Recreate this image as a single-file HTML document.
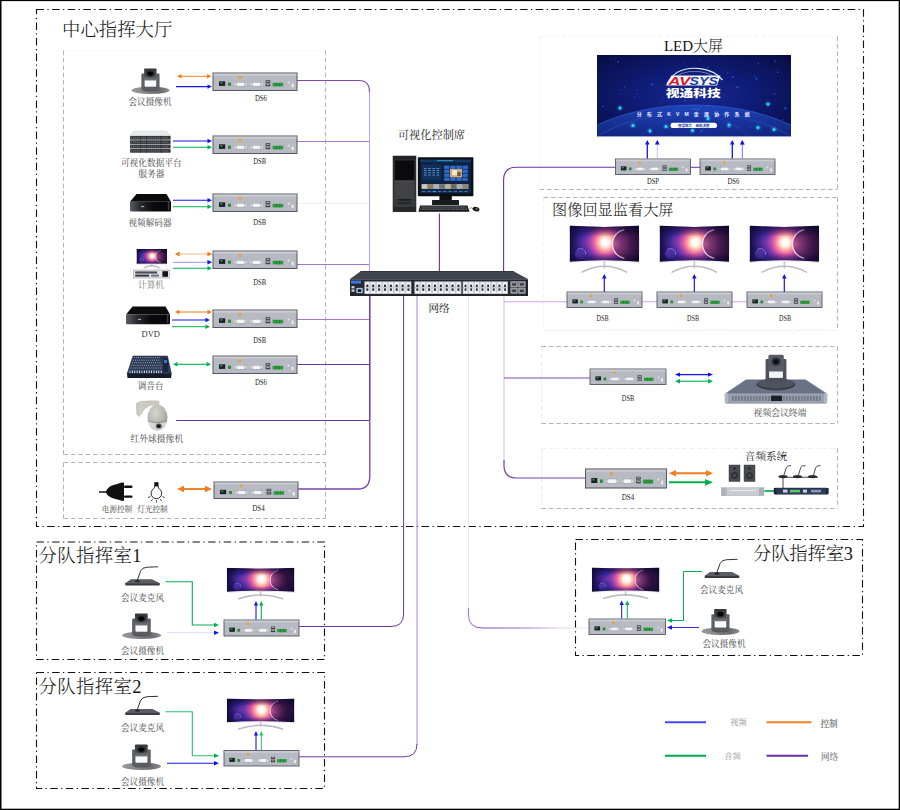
<!DOCTYPE html>
<html lang="zh-CN"><head><meta charset="utf-8"><title>分布式KVM坐席协作系统 拓扑图</title>
<style>
html,body{margin:0;padding:0;background:#fff;}
body{width:900px;height:810px;overflow:hidden;font-family:"Liberation Serif","Noto Serif CJK SC",serif;}
svg{display:block;}
</style></head><body>
<svg width="900" height="810" viewBox="0 0 900 810">
<defs>
<radialGradient id="gGlow" cx="0.5" cy="0.5" r="0.5">
 <stop offset="0" stop-color="#ffffff"/><stop offset="0.16" stop-color="#fff6f0"/>
 <stop offset="0.3" stop-color="#ffb4a4"/><stop offset="0.48" stop-color="#ee62a4" stop-opacity="0.92"/>
 <stop offset="0.72" stop-color="#a040b4" stop-opacity="0.55"/>
 <stop offset="1" stop-color="#5a2c9c" stop-opacity="0"/>
</radialGradient>
<radialGradient id="gStreak" cx="0.5" cy="0.5" r="0.5">
 <stop offset="0" stop-color="#f070a8" stop-opacity="0.9"/><stop offset="0.5" stop-color="#b048b0" stop-opacity="0.5"/>
 <stop offset="1" stop-color="#6030a0" stop-opacity="0"/>
</radialGradient>
<linearGradient id="gWpBase" x1="0" y1="0" x2="1" y2="0">
 <stop offset="0" stop-color="#140c40"/><stop offset="0.2" stop-color="#3828a0"/><stop offset="0.5" stop-color="#5a2c9c"/>
 <stop offset="0.8" stop-color="#3c1a60"/><stop offset="1" stop-color="#180a30"/>
</linearGradient>
<linearGradient id="gWpTop" x1="0" y1="0" x2="0" y2="1">
 <stop offset="0" stop-color="#0c0628" stop-opacity="0.75"/><stop offset="0.3" stop-color="#0c0628" stop-opacity="0"/>
 <stop offset="0.75" stop-color="#0c0628" stop-opacity="0"/><stop offset="1" stop-color="#0c0628" stop-opacity="0.6"/>
</linearGradient>
<radialGradient id="gPlanet" cx="0.05" cy="0.5" r="1.0">
 <stop offset="0" stop-color="#b45a90"/><stop offset="0.25" stop-color="#7a3470"/><stop offset="0.6" stop-color="#40184c"/><stop offset="1" stop-color="#1c0a2c"/>
</radialGradient>
<linearGradient id="gCamBase" x1="0" y1="0" x2="1" y2="0">
 <stop offset="0" stop-color="#9a9a9e"/><stop offset="0.3" stop-color="#8a8a8e"/><stop offset="0.75" stop-color="#6c6c70"/><stop offset="1" stop-color="#8e8e92"/>
</linearGradient>
<linearGradient id="gCamHead" x1="0" y1="0" x2="0" y2="1">
 <stop offset="0" stop-color="#36373b"/><stop offset="0.6" stop-color="#4a4b50"/><stop offset="1" stop-color="#7a7b80"/>
</linearGradient>
<linearGradient id="gR3" gradientUnits="userSpaceOnUse" x1="468" y1="0" x2="589" y2="0"><stop offset="0" stop-color="#9a6cc8"/><stop offset="0.12" stop-color="#7c48b0"/><stop offset="0.45" stop-color="#9a70c8"/><stop offset="0.8" stop-color="#e8d8f0"/><stop offset="1" stop-color="#f6ece8"/></linearGradient><linearGradient id="gGloss" x1="0" y1="0" x2="1" y2="0"><stop offset="0" stop-color="#5c5e64"/><stop offset="0.25" stop-color="#2a2b2f"/><stop offset="0.55" stop-color="#0c0c0e"/><stop offset="1" stop-color="#050506"/></linearGradient><clipPath id="mc1"><path d="M136.5,249 Q151.75,249.0 167.0,249 L167.0,264.2 Q151.75,264.2 136.5,264.2 Z"/></clipPath><radialGradient id="gDome" cx="0.4" cy="0.3" r="0.8"><stop offset="0" stop-color="#d6d6d0"/><stop offset="0.6" stop-color="#b4b4ae"/><stop offset="1" stop-color="#8e8e88"/></radialGradient>
<radialGradient id="gLed" cx="0.5" cy="0.5" r="0.72">
 <stop offset="0" stop-color="#172890"/><stop offset="0.4" stop-color="#0f1c78"/><stop offset="0.8" stop-color="#0a1254"/><stop offset="1" stop-color="#070c3c"/>
</radialGradient>
<linearGradient id="gGlobe" x1="0" y1="0" x2="0" y2="1">
 <stop offset="0" stop-color="#2858d8" stop-opacity="0.6"/><stop offset="0.18" stop-color="#1c3cb4" stop-opacity="0.5"/><stop offset="0.45" stop-color="#0c1a70" stop-opacity="0.3"/>
</linearGradient>
<clipPath id="ledclip"><rect x="597" y="55" width="194" height="81.5"/></clipPath>
<clipPath id="mc2"><path d="M569.6,225.6 Q604.35,228.2 639.1,225.6 L639.1,262.4 Q604.35,259.28 569.6,262.4 Z"/></clipPath><clipPath id="mc3"><path d="M659.6,225.6 Q694.35,228.2 729.1,225.6 L729.1,262.4 Q694.35,259.28 659.6,262.4 Z"/></clipPath><clipPath id="mc4"><path d="M749.6,225.6 Q784.35,228.2 819.1,225.6 L819.1,262.4 Q784.35,259.28 749.6,262.4 Z"/></clipPath><clipPath id="mc5"><path d="M226.8,567.8 Q260.6,569.5999999999999 294.4,567.8 L294.4,592.4 Q260.6,590.24 226.8,592.4 Z"/></clipPath><clipPath id="mc6"><path d="M226.8,698.6 Q260.6,700.4 294.4,698.6 L294.4,722.8000000000001 Q260.6,720.6400000000001 226.8,722.8000000000001 Z"/></clipPath><clipPath id="mc7"><path d="M591.8,567.6 Q625.5999999999999,569.4 659.4,567.6 L659.4,592.2 Q625.5999999999999,590.0400000000001 591.8,592.2 Z"/></clipPath></defs>
<rect x="0" y="0" width="900" height="810" fill="#ffffff"/>
<rect x="0" y="0" width="900" height="1.1" fill="#000"/><rect x="0" y="808.7" width="900" height="1.3" fill="#000"/>
<rect x="0" y="0" width="1.5" height="810" fill="#000"/><rect x="898.7" y="0" width="1.3" height="810" fill="#000"/>
<rect x="36.5" y="9.5" width="827" height="517" stroke="#111" stroke-width="1.1" fill="none" stroke-dasharray="7.5 3.4 1.3 3.4"/>
<rect x="36.5" y="542" width="288" height="117.5" stroke="#111" stroke-width="1.1" fill="none" stroke-dasharray="7.5 3.4 1.3 3.4"/>
<rect x="36.5" y="672.5" width="288" height="116" stroke="#111" stroke-width="1.1" fill="none" stroke-dasharray="7.5 3.4 1.3 3.4"/>
<rect x="575.5" y="539.5" width="287" height="116" stroke="#111" stroke-width="1.1" fill="none" stroke-dasharray="7.5 3.4 1.3 3.4"/>
<line x1="63.5" y1="50.5" x2="325.5" y2="50.5" stroke="#9a9a9a" stroke-width="0.75" stroke-dasharray="4.6 2.8" opacity="0.12"/>
<line x1="63.5" y1="50.5" x2="63.5" y2="454.5" stroke="#9a9a9a" stroke-width="0.75" stroke-dasharray="4.6 2.8" opacity="1"/>
<line x1="325.5" y1="50.5" x2="325.5" y2="454.5" stroke="#9a9a9a" stroke-width="0.75" stroke-dasharray="4.6 2.8" opacity="1"/>
<line x1="63.5" y1="454.5" x2="325.5" y2="454.5" stroke="#9a9a9a" stroke-width="0.75" stroke-dasharray="4.6 2.8" opacity="1"/>
<line x1="63.5" y1="462.5" x2="325.5" y2="462.5" stroke="#9a9a9a" stroke-width="0.75" stroke-dasharray="4.6 2.8" opacity="1"/>
<line x1="63.5" y1="462.5" x2="63.5" y2="518.5" stroke="#9a9a9a" stroke-width="0.75" stroke-dasharray="4.6 2.8" opacity="1"/>
<line x1="325.5" y1="462.5" x2="325.5" y2="518.5" stroke="#9a9a9a" stroke-width="0.75" stroke-dasharray="4.6 2.8" opacity="1"/>
<line x1="63.5" y1="518.5" x2="325.5" y2="518.5" stroke="#9a9a9a" stroke-width="0.75" stroke-dasharray="4.6 2.8" opacity="1"/>
<line x1="539.5" y1="36.5" x2="837.5" y2="36.5" stroke="#9a9a9a" stroke-width="0.75" stroke-dasharray="4.6 2.8" opacity="0.14"/>
<line x1="539.5" y1="36.5" x2="539.5" y2="189.5" stroke="#9a9a9a" stroke-width="0.75" stroke-dasharray="4.6 2.8" opacity="0.14"/>
<line x1="837.5" y1="36.5" x2="837.5" y2="189.5" stroke="#9a9a9a" stroke-width="0.75" stroke-dasharray="4.6 2.8" opacity="1"/>
<line x1="539.5" y1="189.5" x2="837.5" y2="189.5" stroke="#9a9a9a" stroke-width="0.75" stroke-dasharray="4.6 2.8" opacity="1"/>
<line x1="543.5" y1="197.5" x2="837.5" y2="197.5" stroke="#9a9a9a" stroke-width="0.75" stroke-dasharray="4.6 2.8" opacity="1"/>
<line x1="543.5" y1="197.5" x2="543.5" y2="330.5" stroke="#9a9a9a" stroke-width="0.75" stroke-dasharray="4.6 2.8" opacity="0.14"/>
<line x1="837.5" y1="197.5" x2="837.5" y2="330.5" stroke="#9a9a9a" stroke-width="0.75" stroke-dasharray="4.6 2.8" opacity="1"/>
<line x1="543.5" y1="330.5" x2="837.5" y2="330.5" stroke="#9a9a9a" stroke-width="0.75" stroke-dasharray="4.6 2.8" opacity="0.22"/>
<line x1="541.5" y1="346.5" x2="837.5" y2="346.5" stroke="#9a9a9a" stroke-width="0.75" stroke-dasharray="4.6 2.8" opacity="1"/>
<line x1="541.5" y1="346.5" x2="541.5" y2="423.5" stroke="#9a9a9a" stroke-width="0.75" stroke-dasharray="4.6 2.8" opacity="0.25"/>
<line x1="837.5" y1="346.5" x2="837.5" y2="423.5" stroke="#9a9a9a" stroke-width="0.75" stroke-dasharray="4.6 2.8" opacity="1"/>
<line x1="541.5" y1="423.5" x2="837.5" y2="423.5" stroke="#9a9a9a" stroke-width="0.75" stroke-dasharray="4.6 2.8" opacity="1"/>
<line x1="541.5" y1="448.5" x2="837.5" y2="448.5" stroke="#9a9a9a" stroke-width="0.75" stroke-dasharray="4.6 2.8" opacity="0.2"/>
<line x1="541.5" y1="448.5" x2="541.5" y2="508.5" stroke="#9a9a9a" stroke-width="0.75" stroke-dasharray="4.6 2.8" opacity="0.25"/>
<line x1="837.5" y1="448.5" x2="837.5" y2="508.5" stroke="#9a9a9a" stroke-width="0.75" stroke-dasharray="4.6 2.8" opacity="1"/>
<line x1="541.5" y1="508.5" x2="837.5" y2="508.5" stroke="#9a9a9a" stroke-width="0.75" stroke-dasharray="4.6 2.8" opacity="1"/>
<path d="M297,264.5 H369.5" fill="none" stroke="#a274d2" stroke-width="1.0"/>
<path d="M297,203.5 H369.5" fill="none" stroke="#f4efe2" stroke-width="1.0"/>
<path d="M297,141.5 H369.5" fill="none" stroke="#a27ad4" stroke-width="1.0"/>
<path d="M369.5,90 V272" fill="none" stroke="#c2a0e6" stroke-width="1.1"/>
<path d="M297,80.5 H359 Q369.5,80.5 369.5,92" fill="none" stroke="#8248b4" stroke-width="1.1"/>
<path d="M297,319.5 H369.5" fill="none" stroke="#a678d6" stroke-width="1.0"/>
<path d="M297,364.5 H369.5" fill="none" stroke="#6c34a0" stroke-width="1.1"/>
<path d="M176,420.5 H369.5" fill="none" stroke="#6c34a0" stroke-width="1.1"/>
<path d="M369.8,296 V420" fill="none" stroke="#6c38a6" stroke-width="1.5"/>
<path d="M298,489 H358 Q369.8,489 369.8,476 V420" fill="none" stroke="#7c40ac" stroke-width="1.3"/>
<path d="M439.4,213.5 V272" fill="none" stroke="#6c30a0" stroke-width="1.1"/>
<path d="M299,626.5 H391 Q403.6,626.5 403.6,614 V296" fill="none" stroke="#6c34a2" stroke-width="1.0"/>
<path d="M417,745 V296" fill="none" stroke="#a680d8" stroke-width="1.0"/>
<path d="M299,756.8 H404 Q417,756.8 417,744" fill="none" stroke="#7238a6" stroke-width="1.0"/>
<path d="M468.4,296 V612" fill="none" stroke="#ecdff7" stroke-width="1.0"/>
<path d="M468.4,608 V614 Q468.4,628 482,628 H589" fill="none" stroke="url(#gR3)" stroke-width="1.0"/>
<path d="M615,167.3 H516 Q503.6,167.3 503.6,180 V272" fill="none" stroke="#6c30a0" stroke-width="1.1"/>
<path d="M690,167.3 H700" fill="none" stroke="#6c30a0" stroke-width="1.0"/>
<path d="M504,296 V462" fill="none" stroke="#d2bcee" stroke-width="1.0"/>
<path d="M504,301.8 H567" fill="none" stroke="#c9a6ea" stroke-width="1.0"/>
<path d="M642,301.8 H657 M732,301.8 H747" fill="none" stroke="#c9a6ea" stroke-width="1.0"/>
<path d="M504,378 H590" fill="none" stroke="#8446b4" stroke-width="1.2"/>
<path d="M504,460 V466 Q504,478 517,478 H585" fill="none" stroke="#7440aa" stroke-width="1.2"/>
<g transform="translate(131.5,68) scale(0.9872,1.0000)">
<ellipse cx="19.3" cy="22.3" rx="19.3" ry="3.7" fill="url(#gCamBase)"/>
<ellipse cx="19.3" cy="21.6" rx="9" ry="2" fill="#56585e"/>
<rect x="10" y="5.6" width="3.4" height="16" rx="0.8" fill="#5e6066"/>
<rect x="25" y="5.6" width="3.4" height="16" rx="0.8" fill="#5e6066"/>
<rect x="11" y="18.4" width="16.6" height="3.4" fill="#5a5c62"/>
<rect x="13.6" y="12.4" width="11.2" height="6.2" fill="#fafafa"/>
<rect x="12.8" y="0.6" width="12.6" height="11.8" rx="1" fill="url(#gCamHead)"/>
<ellipse cx="19.1" cy="5.6" rx="4.2" ry="3.4" fill="#2e2f33"/>
<ellipse cx="19.1" cy="5.6" rx="2.9" ry="2.1" fill="#050506"/>
</g>
<line x1="180.60" y1="76.30" x2="207.90" y2="76.30" stroke="#f07d1e" stroke-width="1.0"/>
<polygon points="211.50,76.30 207.00,78.50 207.00,74.10" fill="#f07d1e"/>
<polygon points="177.00,76.30 181.50,78.50 181.50,74.10" fill="#f07d1e"/>
<line x1="176.00" y1="86.60" x2="208.40" y2="86.60" stroke="#1414f0" stroke-width="1.1"/>
<polygon points="212.00,86.60 207.50,88.80 207.50,84.40" fill="#1414f0"/>
<g transform="translate(213,73) scale(1.0000,1.0000)">
<rect x="0" y="0" width="84" height="17.5" fill="#b8bac3" stroke="#54565f" stroke-width="1"/>
<rect x="0.6" y="0.6" width="82.8" height="2" fill="#c9ccd3"/>
<rect x="6" y="8.3" width="6.2" height="4.6" fill="#1c2024"/>
<rect x="7.2" y="9" width="2.2" height="1.6" fill="#3c8c5a"/>
<rect x="15" y="9.6" width="3" height="3.2" fill="#2d8a3a"/>
<circle cx="27" cy="4.2" r="1.5" fill="#f09a28"/>
<rect x="23.2" y="9.2" width="8.6" height="4" fill="#f4f4f4" stroke="#8a8d94" stroke-width="0.4"/>
<rect x="21.8" y="10.4" width="1.2" height="1.6" fill="#e8e8e8"/><rect x="32" y="10.4" width="1.2" height="1.6" fill="#e8e8e8"/>
<rect x="39.2" y="9.2" width="8.6" height="4" fill="#f4f4f4" stroke="#8a8d94" stroke-width="0.4"/>
<rect x="37.8" y="10.4" width="1.2" height="1.6" fill="#e8e8e8"/><rect x="48" y="10.4" width="1.2" height="1.6" fill="#e8e8e8"/>
<rect x="52.6" y="7.2" width="4.6" height="2.6" fill="#30343a"/><rect x="52.6" y="10.6" width="4.6" height="2.6" fill="#30343a"/>
<rect x="53.3" y="7.9" width="3.2" height="0.8" fill="#d8d8d8"/><rect x="53.3" y="11.3" width="3.2" height="0.8" fill="#d8d8d8"/>
<rect x="59.6" y="9.8" width="10.6" height="3.6" fill="#2c9a3c"/>
<rect x="62.9" y="9.8" width="0.5" height="3.6" fill="#1c6a28"/><rect x="66.4" y="9.8" width="0.5" height="3.6" fill="#1c6a28"/>
<circle cx="75.6" cy="9.6" r="1.3" fill="#e6e6ea" stroke="#9a9da4" stroke-width="0.3"/>
<rect x="78.6" y="10.6" width="2" height="3.6" fill="#eeeeee"/>
</g>
<line x1="173.00" y1="141.00" x2="208.40" y2="141.00" stroke="#1414f0" stroke-width="1.1"/>
<polygon points="212.00,141.00 207.50,143.20 207.50,138.80" fill="#1414f0"/>
<line x1="173.00" y1="147.30" x2="208.40" y2="147.30" stroke="#00b050" stroke-width="1.1"/>
<polygon points="212.00,147.30 207.50,149.50 207.50,145.10" fill="#00b050"/>
<g transform="translate(213,136) scale(1.0000,1.0000)">
<rect x="0" y="0" width="84" height="17.5" fill="#b8bac3" stroke="#54565f" stroke-width="1"/>
<rect x="0.6" y="0.6" width="82.8" height="2" fill="#c9ccd3"/>
<rect x="6" y="8.3" width="6.2" height="4.6" fill="#1c2024"/>
<rect x="7.2" y="9" width="2.2" height="1.6" fill="#3c8c5a"/>
<rect x="15" y="9.6" width="3" height="3.2" fill="#2d8a3a"/>
<circle cx="27" cy="4.2" r="1.5" fill="#f09a28"/>
<rect x="23.2" y="9.2" width="8.6" height="4" fill="#f4f4f4" stroke="#8a8d94" stroke-width="0.4"/>
<rect x="21.8" y="10.4" width="1.2" height="1.6" fill="#e8e8e8"/><rect x="32" y="10.4" width="1.2" height="1.6" fill="#e8e8e8"/>
<rect x="39.2" y="9.2" width="8.6" height="4" fill="#f4f4f4" stroke="#8a8d94" stroke-width="0.4"/>
<rect x="37.8" y="10.4" width="1.2" height="1.6" fill="#e8e8e8"/><rect x="48" y="10.4" width="1.2" height="1.6" fill="#e8e8e8"/>
<rect x="52.6" y="7.2" width="4.6" height="2.6" fill="#30343a"/><rect x="52.6" y="10.6" width="4.6" height="2.6" fill="#30343a"/>
<rect x="53.3" y="7.9" width="3.2" height="0.8" fill="#d8d8d8"/><rect x="53.3" y="11.3" width="3.2" height="0.8" fill="#d8d8d8"/>
<rect x="59.6" y="9.8" width="10.6" height="3.6" fill="#2c9a3c"/>
<rect x="62.9" y="9.8" width="0.5" height="3.6" fill="#1c6a28"/><rect x="66.4" y="9.8" width="0.5" height="3.6" fill="#1c6a28"/>
<circle cx="75.6" cy="9.6" r="1.3" fill="#e6e6ea" stroke="#9a9da4" stroke-width="0.3"/>
<rect x="78.6" y="10.6" width="2" height="3.6" fill="#eeeeee"/>
</g>
<line x1="173.00" y1="200.30" x2="208.40" y2="200.30" stroke="#1414f0" stroke-width="1.1"/>
<polygon points="212.00,200.30 207.50,202.50 207.50,198.10" fill="#1414f0"/>
<line x1="173.00" y1="206.80" x2="208.40" y2="206.80" stroke="#00b050" stroke-width="1.1"/>
<polygon points="212.00,206.80 207.50,209.00 207.50,204.60" fill="#00b050"/>
<g transform="translate(213,194) scale(1.0000,1.0000)">
<rect x="0" y="0" width="84" height="17.5" fill="#b8bac3" stroke="#54565f" stroke-width="1"/>
<rect x="0.6" y="0.6" width="82.8" height="2" fill="#c9ccd3"/>
<rect x="6" y="8.3" width="6.2" height="4.6" fill="#1c2024"/>
<rect x="7.2" y="9" width="2.2" height="1.6" fill="#3c8c5a"/>
<rect x="15" y="9.6" width="3" height="3.2" fill="#2d8a3a"/>
<circle cx="27" cy="4.2" r="1.5" fill="#f09a28"/>
<rect x="23.2" y="9.2" width="8.6" height="4" fill="#f4f4f4" stroke="#8a8d94" stroke-width="0.4"/>
<rect x="21.8" y="10.4" width="1.2" height="1.6" fill="#e8e8e8"/><rect x="32" y="10.4" width="1.2" height="1.6" fill="#e8e8e8"/>
<rect x="39.2" y="9.2" width="8.6" height="4" fill="#f4f4f4" stroke="#8a8d94" stroke-width="0.4"/>
<rect x="37.8" y="10.4" width="1.2" height="1.6" fill="#e8e8e8"/><rect x="48" y="10.4" width="1.2" height="1.6" fill="#e8e8e8"/>
<rect x="52.6" y="7.2" width="4.6" height="2.6" fill="#30343a"/><rect x="52.6" y="10.6" width="4.6" height="2.6" fill="#30343a"/>
<rect x="53.3" y="7.9" width="3.2" height="0.8" fill="#d8d8d8"/><rect x="53.3" y="11.3" width="3.2" height="0.8" fill="#d8d8d8"/>
<rect x="59.6" y="9.8" width="10.6" height="3.6" fill="#2c9a3c"/>
<rect x="62.9" y="9.8" width="0.5" height="3.6" fill="#1c6a28"/><rect x="66.4" y="9.8" width="0.5" height="3.6" fill="#1c6a28"/>
<circle cx="75.6" cy="9.6" r="1.3" fill="#e6e6ea" stroke="#9a9da4" stroke-width="0.3"/>
<rect x="78.6" y="10.6" width="2" height="3.6" fill="#eeeeee"/>
</g>
<line x1="178.60" y1="254.00" x2="208.40" y2="254.00" stroke="#f7b070" stroke-width="0.9"/>
<polygon points="212.00,254.00 207.50,256.20 207.50,251.80" fill="#f7b070"/>
<polygon points="175.00,254.00 179.50,256.20 179.50,251.80" fill="#f7b070"/>
<polygon points="175,254 179.5,251.8 179.5,256.2" fill="#f07d1e"/><polygon points="212,254 207.5,251.8 207.5,256.2" fill="#f07d1e"/>
<line x1="173.00" y1="262.30" x2="208.40" y2="262.30" stroke="#8c8cf8" stroke-width="0.9"/>
<polygon points="212.00,262.30 207.50,264.50 207.50,260.10" fill="#8c8cf8"/>
<polygon points="212.00,262.30 207.50,264.50 207.50,260.10" fill="#1414f0"/>
<line x1="173.00" y1="268.30" x2="208.40" y2="268.30" stroke="#00b050" stroke-width="1.1"/>
<polygon points="212.00,268.30 207.50,270.50 207.50,266.10" fill="#00b050"/>
<g transform="translate(213,251) scale(1.0000,1.0000)">
<rect x="0" y="0" width="84" height="17.5" fill="#b8bac3" stroke="#54565f" stroke-width="1"/>
<rect x="0.6" y="0.6" width="82.8" height="2" fill="#c9ccd3"/>
<rect x="6" y="8.3" width="6.2" height="4.6" fill="#1c2024"/>
<rect x="7.2" y="9" width="2.2" height="1.6" fill="#3c8c5a"/>
<rect x="15" y="9.6" width="3" height="3.2" fill="#2d8a3a"/>
<circle cx="27" cy="4.2" r="1.5" fill="#f09a28"/>
<rect x="23.2" y="9.2" width="8.6" height="4" fill="#f4f4f4" stroke="#8a8d94" stroke-width="0.4"/>
<rect x="21.8" y="10.4" width="1.2" height="1.6" fill="#e8e8e8"/><rect x="32" y="10.4" width="1.2" height="1.6" fill="#e8e8e8"/>
<rect x="39.2" y="9.2" width="8.6" height="4" fill="#f4f4f4" stroke="#8a8d94" stroke-width="0.4"/>
<rect x="37.8" y="10.4" width="1.2" height="1.6" fill="#e8e8e8"/><rect x="48" y="10.4" width="1.2" height="1.6" fill="#e8e8e8"/>
<rect x="52.6" y="7.2" width="4.6" height="2.6" fill="#30343a"/><rect x="52.6" y="10.6" width="4.6" height="2.6" fill="#30343a"/>
<rect x="53.3" y="7.9" width="3.2" height="0.8" fill="#d8d8d8"/><rect x="53.3" y="11.3" width="3.2" height="0.8" fill="#d8d8d8"/>
<rect x="59.6" y="9.8" width="10.6" height="3.6" fill="#2c9a3c"/>
<rect x="62.9" y="9.8" width="0.5" height="3.6" fill="#1c6a28"/><rect x="66.4" y="9.8" width="0.5" height="3.6" fill="#1c6a28"/>
<circle cx="75.6" cy="9.6" r="1.3" fill="#e6e6ea" stroke="#9a9da4" stroke-width="0.3"/>
<rect x="78.6" y="10.6" width="2" height="3.6" fill="#eeeeee"/>
</g>
<line x1="178.60" y1="312.00" x2="208.40" y2="312.00" stroke="#f07d1e" stroke-width="1.0"/>
<polygon points="212.00,312.00 207.50,314.20 207.50,309.80" fill="#f07d1e"/>
<polygon points="175.00,312.00 179.50,314.20 179.50,309.80" fill="#f07d1e"/>
<line x1="172.00" y1="320.00" x2="206.40" y2="320.00" stroke="#1414f0" stroke-width="1.1"/>
<polygon points="210.00,320.00 205.50,322.20 205.50,317.80" fill="#1414f0"/>
<line x1="172.00" y1="326.70" x2="206.40" y2="326.70" stroke="#00b050" stroke-width="1.0"/>
<polygon points="210.00,326.70 205.50,328.90 205.50,324.50" fill="#00b050"/>
<g transform="translate(213,310) scale(1.0000,1.0000)">
<rect x="0" y="0" width="84" height="17.5" fill="#b8bac3" stroke="#54565f" stroke-width="1"/>
<rect x="0.6" y="0.6" width="82.8" height="2" fill="#c9ccd3"/>
<rect x="6" y="8.3" width="6.2" height="4.6" fill="#1c2024"/>
<rect x="7.2" y="9" width="2.2" height="1.6" fill="#3c8c5a"/>
<rect x="15" y="9.6" width="3" height="3.2" fill="#2d8a3a"/>
<circle cx="27" cy="4.2" r="1.5" fill="#f09a28"/>
<rect x="23.2" y="9.2" width="8.6" height="4" fill="#f4f4f4" stroke="#8a8d94" stroke-width="0.4"/>
<rect x="21.8" y="10.4" width="1.2" height="1.6" fill="#e8e8e8"/><rect x="32" y="10.4" width="1.2" height="1.6" fill="#e8e8e8"/>
<rect x="39.2" y="9.2" width="8.6" height="4" fill="#f4f4f4" stroke="#8a8d94" stroke-width="0.4"/>
<rect x="37.8" y="10.4" width="1.2" height="1.6" fill="#e8e8e8"/><rect x="48" y="10.4" width="1.2" height="1.6" fill="#e8e8e8"/>
<rect x="52.6" y="7.2" width="4.6" height="2.6" fill="#30343a"/><rect x="52.6" y="10.6" width="4.6" height="2.6" fill="#30343a"/>
<rect x="53.3" y="7.9" width="3.2" height="0.8" fill="#d8d8d8"/><rect x="53.3" y="11.3" width="3.2" height="0.8" fill="#d8d8d8"/>
<rect x="59.6" y="9.8" width="10.6" height="3.6" fill="#2c9a3c"/>
<rect x="62.9" y="9.8" width="0.5" height="3.6" fill="#1c6a28"/><rect x="66.4" y="9.8" width="0.5" height="3.6" fill="#1c6a28"/>
<circle cx="75.6" cy="9.6" r="1.3" fill="#e6e6ea" stroke="#9a9da4" stroke-width="0.3"/>
<rect x="78.6" y="10.6" width="2" height="3.6" fill="#eeeeee"/>
</g>
<line x1="176.60" y1="364.30" x2="207.40" y2="364.30" stroke="#00b050" stroke-width="1.1"/>
<polygon points="211.00,364.30 206.50,366.60 206.50,362.00" fill="#00b050"/>
<polygon points="173.00,364.30 177.50,366.60 177.50,362.00" fill="#00b050"/>
<g transform="translate(213,356) scale(1.0000,1.0000)">
<rect x="0" y="0" width="84" height="17.5" fill="#b8bac3" stroke="#54565f" stroke-width="1"/>
<rect x="0.6" y="0.6" width="82.8" height="2" fill="#c9ccd3"/>
<rect x="6" y="8.3" width="6.2" height="4.6" fill="#1c2024"/>
<rect x="7.2" y="9" width="2.2" height="1.6" fill="#3c8c5a"/>
<rect x="15" y="9.6" width="3" height="3.2" fill="#2d8a3a"/>
<circle cx="27" cy="4.2" r="1.5" fill="#f09a28"/>
<rect x="23.2" y="9.2" width="8.6" height="4" fill="#f4f4f4" stroke="#8a8d94" stroke-width="0.4"/>
<rect x="21.8" y="10.4" width="1.2" height="1.6" fill="#e8e8e8"/><rect x="32" y="10.4" width="1.2" height="1.6" fill="#e8e8e8"/>
<rect x="39.2" y="9.2" width="8.6" height="4" fill="#f4f4f4" stroke="#8a8d94" stroke-width="0.4"/>
<rect x="37.8" y="10.4" width="1.2" height="1.6" fill="#e8e8e8"/><rect x="48" y="10.4" width="1.2" height="1.6" fill="#e8e8e8"/>
<rect x="52.6" y="7.2" width="4.6" height="2.6" fill="#30343a"/><rect x="52.6" y="10.6" width="4.6" height="2.6" fill="#30343a"/>
<rect x="53.3" y="7.9" width="3.2" height="0.8" fill="#d8d8d8"/><rect x="53.3" y="11.3" width="3.2" height="0.8" fill="#d8d8d8"/>
<rect x="59.6" y="9.8" width="10.6" height="3.6" fill="#2c9a3c"/>
<rect x="62.9" y="9.8" width="0.5" height="3.6" fill="#1c6a28"/><rect x="66.4" y="9.8" width="0.5" height="3.6" fill="#1c6a28"/>
<circle cx="75.6" cy="9.6" r="1.3" fill="#e6e6ea" stroke="#9a9da4" stroke-width="0.3"/>
<rect x="78.6" y="10.6" width="2" height="3.6" fill="#eeeeee"/>
</g>
<line x1="182.60" y1="489.00" x2="206.40" y2="489.00" stroke="#f07d1e" stroke-width="1.9"/>
<polygon points="212.00,489.00 205.00,492.30 205.00,485.70" fill="#f07d1e"/>
<polygon points="177.00,489.00 184.00,492.30 184.00,485.70" fill="#f07d1e"/>
<g transform="translate(214,482) scale(1.0000,0.9429)">
<rect x="0" y="0" width="84" height="17.5" fill="#b8bac3" stroke="#54565f" stroke-width="1"/>
<rect x="0.6" y="0.6" width="82.8" height="2" fill="#c9ccd3"/>
<rect x="6" y="8.3" width="6.2" height="4.6" fill="#1c2024"/>
<rect x="7.2" y="9" width="2.2" height="1.6" fill="#3c8c5a"/>
<rect x="15" y="9.6" width="3" height="3.2" fill="#2d8a3a"/>
<circle cx="27" cy="4.2" r="1.5" fill="#f09a28"/>
<rect x="23.2" y="9.2" width="8.6" height="4" fill="#f4f4f4" stroke="#8a8d94" stroke-width="0.4"/>
<rect x="21.8" y="10.4" width="1.2" height="1.6" fill="#e8e8e8"/><rect x="32" y="10.4" width="1.2" height="1.6" fill="#e8e8e8"/>
<rect x="39.2" y="9.2" width="8.6" height="4" fill="#f4f4f4" stroke="#8a8d94" stroke-width="0.4"/>
<rect x="37.8" y="10.4" width="1.2" height="1.6" fill="#e8e8e8"/><rect x="48" y="10.4" width="1.2" height="1.6" fill="#e8e8e8"/>
<rect x="52.6" y="7.2" width="4.6" height="2.6" fill="#30343a"/><rect x="52.6" y="10.6" width="4.6" height="2.6" fill="#30343a"/>
<rect x="53.3" y="7.9" width="3.2" height="0.8" fill="#d8d8d8"/><rect x="53.3" y="11.3" width="3.2" height="0.8" fill="#d8d8d8"/>
<rect x="59.6" y="9.8" width="10.6" height="3.6" fill="#2c9a3c"/>
<rect x="62.9" y="9.8" width="0.5" height="3.6" fill="#1c6a28"/><rect x="66.4" y="9.8" width="0.5" height="3.6" fill="#1c6a28"/>
<circle cx="75.6" cy="9.6" r="1.3" fill="#e6e6ea" stroke="#9a9da4" stroke-width="0.3"/>
<rect x="78.6" y="10.6" width="2" height="3.6" fill="#eeeeee"/>
</g>
<polygon points="134.3,131 166.3,131 170.8,135.6 129.8,135.6" fill="#e9eaec" stroke="#c4c6ca" stroke-width="0.4"/>
<rect x="129.8" y="135.6" width="41" height="17.4" fill="#c2c4c8"/>
<rect x="130.20000000000002" y="136.05" width="40.2" height="3.45" fill="#2b2c30"/>
<line x1="131.3" y1="137.78" x2="169.3" y2="137.78" stroke="#6e7076" stroke-width="1.83" stroke-dasharray="1.1 0.9"/>
<rect x="140.05" y="136.05" width="0.9" height="3.45" fill="#2b2c30"/>
<rect x="146.20" y="136.05" width="0.9" height="3.45" fill="#2b2c30"/>
<rect x="160.55" y="136.05" width="0.9" height="3.45" fill="#2b2c30"/>
<rect x="130.20000000000002" y="140.40" width="40.2" height="3.45" fill="#2b2c30"/>
<line x1="131.3" y1="142.12" x2="169.3" y2="142.12" stroke="#6e7076" stroke-width="1.83" stroke-dasharray="1.1 0.9"/>
<rect x="140.05" y="140.40" width="0.9" height="3.45" fill="#2b2c30"/>
<rect x="146.20" y="140.40" width="0.9" height="3.45" fill="#2b2c30"/>
<rect x="160.55" y="140.40" width="0.9" height="3.45" fill="#2b2c30"/>
<rect x="130.20000000000002" y="144.75" width="40.2" height="3.45" fill="#2b2c30"/>
<line x1="131.3" y1="146.47" x2="169.3" y2="146.47" stroke="#6e7076" stroke-width="1.83" stroke-dasharray="1.1 0.9"/>
<rect x="140.05" y="144.75" width="0.9" height="3.45" fill="#2b2c30"/>
<rect x="146.20" y="144.75" width="0.9" height="3.45" fill="#2b2c30"/>
<rect x="160.55" y="144.75" width="0.9" height="3.45" fill="#2b2c30"/>
<rect x="130.20000000000002" y="149.10" width="40.2" height="3.45" fill="#2b2c30"/>
<line x1="131.3" y1="150.83" x2="169.3" y2="150.83" stroke="#6e7076" stroke-width="1.83" stroke-dasharray="1.1 0.9"/>
<rect x="140.05" y="149.10" width="0.9" height="3.45" fill="#2b2c30"/>
<rect x="146.20" y="149.10" width="0.9" height="3.45" fill="#2b2c30"/>
<rect x="160.55" y="149.10" width="0.9" height="3.45" fill="#2b2c30"/>
<polygon points="136.5,194 166.5,194 171,201.83 130,201.83" fill="#0b0b0d"/>
<path d="M130,201.83 H171 V210.40 Q171,211.4 170,211.4 H131 Q130,211.4 130,210.40 Z" fill="url(#gGloss)"/>
<rect x="141.07" y="206.18" width="3.2" height="0.9" fill="#c8ccd8"/>
<rect x="167.80" y="201.83" width="1.6" height="8.57" fill="#6a6c72" opacity="0.55"/>
<polygon points="132.5,306.4 165.5,306.4 170,314.41 126,314.41" fill="#0b0b0d"/>
<path d="M126,314.41 H170 V323.20 Q170,324.2 169,324.2 H127 Q126,324.2 126,323.20 Z" fill="url(#gGloss)"/>
<rect x="137.88" y="318.86" width="3.2" height="0.9" fill="#c8ccd8"/>
<rect x="166.80" y="314.41" width="1.6" height="8.79" fill="#6a6c72" opacity="0.55"/>
<g clip-path="url(#mc1)">
<rect x="136.5" y="249" width="30.5" height="15.2" fill="url(#gWpBase)"/>
<ellipse cx="152.21" cy="255.99" rx="15.25" ry="4.56" fill="url(#gStreak)"/>
<circle cx="152.21" cy="255.99" r="10.03" fill="url(#gGlow)"/>
<circle cx="161.81" cy="256.60" r="6.08" fill="url(#gPlanet)"/>
<path d="M160.60,250.64 A6.08,6.08 0 0 0 160.60,262.56" fill="none" stroke="#ffe0f0" stroke-width="0.70" opacity="0.95"/>
<circle cx="141.23" cy="260.63" r="2.20" fill="#4a30a0"/>
<path d="M139.91,258.86 A2.20,2.20 0 0 1 143.39,261.07" fill="none" stroke="#b08ae0" stroke-width="0.50" opacity="0.9"/>
<rect x="136.5" y="249" width="30.5" height="15.2" fill="url(#gWpTop)"/>
</g>
<path d="M136.5,264.2 Q151.75,264.2 167.0,264.2" fill="none" stroke="#f0f1f4" stroke-width="1.1"/>
<rect x="150.95" y="264.20" width="1.6" height="2.23" fill="#c4c7cc"/>
<path d="M144.25,267.80 Q151.75,263.48 159.25,267.80" fill="none" stroke="#b9bcc3" stroke-width="1.5" stroke-linecap="round"/>
<rect x="133.6" y="270" width="36" height="8" fill="#e4e6ea" stroke="#8a8d94" stroke-width="0.5"/>
<rect x="135.2" y="271.4" width="22" height="2.2" fill="#4a4d55"/><rect x="135.2" y="274.6" width="14" height="2" fill="#30333a"/>
<rect x="151" y="274.6" width="8" height="2" fill="#70737c"/>
<rect x="162.4" y="271.2" width="5.6" height="5.6" fill="#15161a"/>
<polygon points="133,356 167.5,356 171.5,374 127,374" fill="#2c3a56" stroke="#1a2234" stroke-width="0.5"/>
<polygon points="127,374 171.5,374 171.0,378 127.5,378" fill="#141a28"/>
<line x1="133.97" y1="357.60" x2="159.86" y2="357.60" stroke="#c8d0e0" stroke-width="0.9" stroke-dasharray="0.8 1.3"/>
<line x1="133.10" y1="360.20" x2="160.43" y2="360.20" stroke="#c8d0e0" stroke-width="0.9" stroke-dasharray="0.8 1.3"/>
<line x1="132.23" y1="362.80" x2="161.01" y2="362.80" stroke="#c8d0e0" stroke-width="0.9" stroke-dasharray="0.8 1.3"/>
<line x1="131.37" y1="365.40" x2="161.59" y2="365.40" stroke="#c8d0e0" stroke-width="0.9" stroke-dasharray="0.8 1.3"/>
<line x1="130.50" y1="368.00" x2="162.17" y2="368.00" stroke="#c8d0e0" stroke-width="0.9" stroke-dasharray="0.8 1.3"/>
<line x1="129.5" y1="371.80" x2="162.5" y2="371.80" stroke="#e8ecf4" stroke-width="2.6" stroke-dasharray="0.9 1.5"/>
<rect x="163.0" y="358" width="5" height="14" fill="#1c2640"/>
<rect x="164.0" y="360" width="3" height="3" fill="#3c74c8"/>
<g transform="translate(0,0)">
<path d="M136.4,403.6 L140,401.4 L152,400.8 L159,401 L159,405.5 L151,405.2 Q144.5,407 141.6,413.4 L139.4,416.8 L136.8,414.4 Z" fill="#c9c9c2" stroke="#a6a69e" stroke-width="0.4"/>
<path d="M140,401.4 L141.2,404.4 L139.4,416.8" fill="none" stroke="#e6e6e0" stroke-width="0.6"/>
<ellipse cx="157.5" cy="417.6" rx="10" ry="12.9" fill="url(#gDome)"/>
<path d="M148.2,421.5 Q157.5,425.5 166.8,421.5 Q166.5,430.3 157.5,430.5 Q148.5,430.3 148.2,421.5 Z" fill="#dededa" opacity="0.85"/>
<path d="M148,420.6 Q157.5,424.6 167,420.6" fill="none" stroke="#86867e" stroke-width="0.7"/>
<ellipse cx="158.8" cy="426" rx="3" ry="2.6" fill="#5a5a58"/><ellipse cx="158.8" cy="426.1" rx="1.8" ry="1.6" fill="#18181a"/>
</g>
<g fill="#111">
<path d="M99,491.3 H106 Q107.5,487.5 112,485.5 L121,482.8 V500.6 L112,498 Q107.5,496 106,492.7 H99 Z"/>
<rect x="121" y="482.6" width="3" height="18.2"/>
<rect x="124" y="485.6" width="8.5" height="2.4" rx="1.1"/><rect x="124" y="495.4" width="8.5" height="2.4" rx="1.1"/>
</g>
<rect x="154.3" y="482.2" width="4.2" height="3.9" fill="#111"/>
<path d="M154.8,486 Q154.8,488.2 152.7,489.6 A5.3,5.3 0 1 0 160.1,489.6 Q158,488.2 158,486 Z" fill="#fff" stroke="#111" stroke-width="0.9"/>
<path d="M150.4,496.6 L148,497.6 M152.6,499.2 L151,501.2 M156.4,500.2 V502.6 M160.2,499.2 L161.8,501.2 M162.4,496.6 L164.8,497.6" fill="none" stroke="#111" stroke-width="0.8"/>
<g transform="translate(393,156)">
<rect x="0" y="0" width="23" height="55.8" fill="#38393d" stroke="#141416" stroke-width="0.5"/>
<rect x="0.3" y="0.3" width="22.4" height="3.4" fill="#222326"/>
<rect x="1.6" y="4.4" width="19.8" height="20" fill="#0b0b0d"/>
<rect x="1.6" y="24.6" width="19.8" height="0.9" fill="#5a5b60"/>
<rect x="1.6" y="26" width="19.8" height="17" fill="#414246"/>
<rect x="5" y="43.2" width="13" height="1.3" fill="#141416"/><rect x="5" y="46.4" width="13" height="1.2" fill="#1c1c1f"/>
<rect x="0.3" y="51" width="22.4" height="4.5" fill="#252629"/>
<rect x="24.8" y="1.2" width="55.6" height="39" rx="0.8" fill="#0e0f12"/>
<rect x="27.2" y="3.6" width="50.8" height="33.6" fill="#0d2244"/>
<rect x="27.2" y="3.6" width="50.8" height="2.6" fill="#123a6a"/>
<rect x="44" y="4" width="16" height="1.2" fill="#3aa0c8" opacity="0.8"/>
<rect x="29" y="8.4" width="19" height="16" fill="#11305c"/>
<rect x="31.0" y="12.0" width="2.6" height="0.9" fill="#6a94cc"/>
<rect x="35.2" y="12.0" width="2.6" height="0.9" fill="#6a94cc"/>
<rect x="39.4" y="12.0" width="2.6" height="0.9" fill="#6a94cc"/>
<rect x="43.6" y="12.0" width="2.6" height="0.9" fill="#6a94cc"/>
<rect x="31.0" y="14.2" width="2.6" height="0.9" fill="#6a94cc"/>
<rect x="35.2" y="14.2" width="2.6" height="0.9" fill="#6a94cc"/>
<rect x="39.4" y="14.2" width="2.6" height="0.9" fill="#6a94cc"/>
<rect x="43.6" y="14.2" width="2.6" height="0.9" fill="#6a94cc"/>
<rect x="31.0" y="16.4" width="2.6" height="0.9" fill="#6a94cc"/>
<rect x="35.2" y="16.4" width="2.6" height="0.9" fill="#6a94cc"/>
<rect x="39.4" y="16.4" width="2.6" height="0.9" fill="#6a94cc"/>
<rect x="43.6" y="16.4" width="2.6" height="0.9" fill="#6a94cc"/>
<rect x="31.0" y="18.6" width="2.6" height="0.9" fill="#6a94cc"/>
<rect x="35.2" y="18.6" width="2.6" height="0.9" fill="#6a94cc"/>
<rect x="39.4" y="18.6" width="2.6" height="0.9" fill="#6a94cc"/>
<rect x="43.6" y="18.6" width="2.6" height="0.9" fill="#6a94cc"/>
<rect x="51.2" y="9.6" width="5.3" height="3.3" fill="#2f6cc6"/>
<rect x="57.3" y="9.6" width="5.3" height="3.3" fill="#2f6cc6"/>
<rect x="63.4" y="9.6" width="5.3" height="3.3" fill="#2f6cc6"/>
<rect x="69.5" y="9.6" width="5.3" height="3.3" fill="#2f6cc6"/>
<rect x="51.2" y="13.6" width="5.3" height="3.3" fill="#2f6cc6"/>
<rect x="57.3" y="13.6" width="5.3" height="3.3" fill="#2f6cc6"/>
<rect x="63.4" y="13.6" width="5.3" height="3.3" fill="#2f6cc6"/>
<rect x="69.5" y="13.6" width="5.3" height="3.3" fill="#2f6cc6"/>
<rect x="51.2" y="17.6" width="5.3" height="3.3" fill="#2f6cc6"/>
<rect x="57.3" y="17.6" width="5.3" height="3.3" fill="#2f6cc6"/>
<rect x="63.4" y="17.6" width="5.3" height="3.3" fill="#2f6cc6"/>
<rect x="69.5" y="17.6" width="5.3" height="3.3" fill="#2f6cc6"/>
<rect x="51.2" y="21.6" width="5.3" height="3.3" fill="#2f6cc6"/>
<rect x="57.3" y="21.6" width="5.3" height="3.3" fill="#2f6cc6"/>
<rect x="63.4" y="21.6" width="5.3" height="3.3" fill="#2f6cc6"/>
<rect x="69.5" y="21.6" width="5.3" height="3.3" fill="#2f6cc6"/>
<rect x="57" y="13" width="12" height="8.4" fill="#c8a884"/><rect x="59" y="14.2" width="5" height="5" fill="#efe6d6"/><rect x="64.2" y="16" width="3.6" height="4" fill="#7a5a3c"/>
<rect x="28.6" y="28" width="47" height="5" fill="#8a8e84"/>
<rect x="28.80" y="28.3" width="5.4" height="4.4" fill="#c8ccc0"/>
<rect x="34.65" y="28.3" width="5.4" height="4.4" fill="#8c7c60"/>
<rect x="40.50" y="28.3" width="5.4" height="4.4" fill="#b0b4b8"/>
<rect x="46.35" y="28.3" width="5.4" height="4.4" fill="#6c7480"/>
<rect x="52.20" y="28.3" width="5.4" height="4.4" fill="#c0b498"/>
<rect x="58.05" y="28.3" width="5.4" height="4.4" fill="#70685c"/>
<rect x="63.90" y="28.3" width="5.4" height="4.4" fill="#a8b0b8"/>
<rect x="69.75" y="28.3" width="5.4" height="4.4" fill="#8c8474"/>
<rect x="27.2" y="34" width="50.8" height="3.2" fill="#10284e"/>
<rect x="29.0" y="34.9" width="3.4" height="1.2" fill="#4a6a9a"/>
<rect x="34.3" y="34.9" width="3.4" height="1.2" fill="#4a6a9a"/>
<rect x="39.6" y="34.9" width="3.4" height="1.2" fill="#3a9ae0"/>
<rect x="44.9" y="34.9" width="3.4" height="1.2" fill="#4a6a9a"/>
<rect x="50.2" y="34.9" width="3.4" height="1.2" fill="#4a6a9a"/>
<rect x="55.5" y="34.9" width="3.4" height="1.2" fill="#4a6a9a"/>
<rect x="60.8" y="34.9" width="3.4" height="1.2" fill="#4a6a9a"/>
<rect x="66.1" y="34.9" width="3.4" height="1.2" fill="#4a6a9a"/>
<rect x="71.4" y="34.9" width="3.4" height="1.2" fill="#4a6a9a"/>
<rect x="46.4" y="40" width="12.4" height="5" fill="#101114"/>
<rect x="39" y="44" width="27" height="5" rx="0.6" fill="#1a1b1e"/>
<polygon points="27,49.6 74.5,49.6 76.6,55.8 25.4,55.8" fill="#17181b"/>
<polygon points="28.2,50.4 73.4,50.4 74.8,54 27,54" fill="#5a5c62"/>
<line x1="27.6" y1="52.2" x2="74.2" y2="52.2" stroke="#1d1e22" stroke-width="0.6"/>
<line x1="28" y1="52.2" x2="74" y2="52.2" stroke="#1d1e22" stroke-width="3.6" stroke-dasharray="0.35 1.3"/>
<path d="M76.6,52.4 Q78.5,51 79.8,52.6" fill="none" stroke="#222" stroke-width="0.5"/>
<ellipse cx="83" cy="53.2" rx="3.5" ry="2.2" fill="#17181b" transform="rotate(14 83 53.2)"/>
<ellipse cx="83.6" cy="53" rx="1.5" ry="1" fill="#5a5c62" transform="rotate(14 83.6 53)"/>
</g>
<g transform="translate(350,271)">
<polygon points="11,0 163,0 178,8 0,8" fill="#40454e"/>
<polygon points="11,0 163,0 164,1 10,1" fill="#30343c"/>
<rect x="0" y="8" width="178" height="17" fill="#23262e"/>
<rect x="0" y="8" width="178" height="0.8" fill="#5a5f6a"/>
<rect x="1" y="9.6" width="10" height="3" fill="#3f78d8"/>
<rect x="1.5" y="15" width="3" height="2.4" fill="#c8ccd4"/><rect x="1.5" y="18.4" width="3" height="2.4" fill="#c8ccd4"/>
<rect x="6.2" y="17" width="6.6" height="5" rx="0.8" fill="#dfe2e8" stroke="#3c80d0" stroke-width="0.6"/>
<rect x="7.6" y="18.2" width="3.8" height="2.8" fill="#16181c"/>
<rect x="14.4" y="10.4" width="47.0" height="12.6" fill="#c9ccd2"/>
<rect x="15.30" y="11.40" width="4.08" height="4.6" fill="#f4f5f7"/>
<rect x="16.30" y="13.60" width="2.08" height="2.4" fill="#2a2d34"/>
<rect x="15.30" y="17.40" width="4.08" height="4.6" fill="#f4f5f7"/>
<rect x="16.30" y="17.40" width="2.08" height="2.4" fill="#2a2d34"/>
<rect x="21.17" y="11.40" width="4.08" height="4.6" fill="#f4f5f7"/>
<rect x="22.17" y="13.60" width="2.08" height="2.4" fill="#2a2d34"/>
<rect x="21.17" y="17.40" width="4.08" height="4.6" fill="#f4f5f7"/>
<rect x="22.17" y="17.40" width="2.08" height="2.4" fill="#2a2d34"/>
<rect x="27.05" y="11.40" width="4.08" height="4.6" fill="#f4f5f7"/>
<rect x="28.05" y="13.60" width="2.08" height="2.4" fill="#2a2d34"/>
<rect x="27.05" y="17.40" width="4.08" height="4.6" fill="#f4f5f7"/>
<rect x="28.05" y="17.40" width="2.08" height="2.4" fill="#2a2d34"/>
<rect x="32.92" y="11.40" width="4.08" height="4.6" fill="#f4f5f7"/>
<rect x="33.92" y="13.60" width="2.08" height="2.4" fill="#2a2d34"/>
<rect x="32.92" y="17.40" width="4.08" height="4.6" fill="#f4f5f7"/>
<rect x="33.92" y="17.40" width="2.08" height="2.4" fill="#2a2d34"/>
<rect x="38.80" y="11.40" width="4.08" height="4.6" fill="#f4f5f7"/>
<rect x="39.80" y="13.60" width="2.08" height="2.4" fill="#2a2d34"/>
<rect x="38.80" y="17.40" width="4.08" height="4.6" fill="#f4f5f7"/>
<rect x="39.80" y="17.40" width="2.08" height="2.4" fill="#2a2d34"/>
<rect x="44.67" y="11.40" width="4.08" height="4.6" fill="#f4f5f7"/>
<rect x="45.67" y="13.60" width="2.08" height="2.4" fill="#2a2d34"/>
<rect x="44.67" y="17.40" width="4.08" height="4.6" fill="#f4f5f7"/>
<rect x="45.67" y="17.40" width="2.08" height="2.4" fill="#2a2d34"/>
<rect x="50.55" y="11.40" width="4.08" height="4.6" fill="#f4f5f7"/>
<rect x="51.55" y="13.60" width="2.08" height="2.4" fill="#2a2d34"/>
<rect x="50.55" y="17.40" width="4.08" height="4.6" fill="#f4f5f7"/>
<rect x="51.55" y="17.40" width="2.08" height="2.4" fill="#2a2d34"/>
<rect x="56.42" y="11.40" width="4.08" height="4.6" fill="#f4f5f7"/>
<rect x="57.42" y="13.60" width="2.08" height="2.4" fill="#2a2d34"/>
<rect x="56.42" y="17.40" width="4.08" height="4.6" fill="#f4f5f7"/>
<rect x="57.42" y="17.40" width="2.08" height="2.4" fill="#2a2d34"/>
<rect x="64.4" y="10.4" width="47.0" height="12.6" fill="#c9ccd2"/>
<rect x="65.30" y="11.40" width="4.08" height="4.6" fill="#f4f5f7"/>
<rect x="66.30" y="13.60" width="2.08" height="2.4" fill="#2a2d34"/>
<rect x="65.30" y="17.40" width="4.08" height="4.6" fill="#f4f5f7"/>
<rect x="66.30" y="17.40" width="2.08" height="2.4" fill="#2a2d34"/>
<rect x="71.18" y="11.40" width="4.08" height="4.6" fill="#f4f5f7"/>
<rect x="72.18" y="13.60" width="2.08" height="2.4" fill="#2a2d34"/>
<rect x="71.18" y="17.40" width="4.08" height="4.6" fill="#f4f5f7"/>
<rect x="72.18" y="17.40" width="2.08" height="2.4" fill="#2a2d34"/>
<rect x="77.05" y="11.40" width="4.08" height="4.6" fill="#f4f5f7"/>
<rect x="78.05" y="13.60" width="2.08" height="2.4" fill="#2a2d34"/>
<rect x="77.05" y="17.40" width="4.08" height="4.6" fill="#f4f5f7"/>
<rect x="78.05" y="17.40" width="2.08" height="2.4" fill="#2a2d34"/>
<rect x="82.93" y="11.40" width="4.08" height="4.6" fill="#f4f5f7"/>
<rect x="83.93" y="13.60" width="2.08" height="2.4" fill="#2a2d34"/>
<rect x="82.93" y="17.40" width="4.08" height="4.6" fill="#f4f5f7"/>
<rect x="83.93" y="17.40" width="2.08" height="2.4" fill="#2a2d34"/>
<rect x="88.80" y="11.40" width="4.08" height="4.6" fill="#f4f5f7"/>
<rect x="89.80" y="13.60" width="2.08" height="2.4" fill="#2a2d34"/>
<rect x="88.80" y="17.40" width="4.08" height="4.6" fill="#f4f5f7"/>
<rect x="89.80" y="17.40" width="2.08" height="2.4" fill="#2a2d34"/>
<rect x="94.68" y="11.40" width="4.08" height="4.6" fill="#f4f5f7"/>
<rect x="95.68" y="13.60" width="2.08" height="2.4" fill="#2a2d34"/>
<rect x="94.68" y="17.40" width="4.08" height="4.6" fill="#f4f5f7"/>
<rect x="95.68" y="17.40" width="2.08" height="2.4" fill="#2a2d34"/>
<rect x="100.55" y="11.40" width="4.08" height="4.6" fill="#f4f5f7"/>
<rect x="101.55" y="13.60" width="2.08" height="2.4" fill="#2a2d34"/>
<rect x="100.55" y="17.40" width="4.08" height="4.6" fill="#f4f5f7"/>
<rect x="101.55" y="17.40" width="2.08" height="2.4" fill="#2a2d34"/>
<rect x="106.43" y="11.40" width="4.08" height="4.6" fill="#f4f5f7"/>
<rect x="107.43" y="13.60" width="2.08" height="2.4" fill="#2a2d34"/>
<rect x="106.43" y="17.40" width="4.08" height="4.6" fill="#f4f5f7"/>
<rect x="107.43" y="17.40" width="2.08" height="2.4" fill="#2a2d34"/>
<rect x="112.7" y="10.4" width="45.2" height="12.6" fill="#c9ccd2"/>
<rect x="113.60" y="11.40" width="3.85" height="4.6" fill="#f4f5f7"/>
<rect x="114.60" y="13.60" width="1.85" height="2.4" fill="#2a2d34"/>
<rect x="113.60" y="17.40" width="3.85" height="4.6" fill="#f4f5f7"/>
<rect x="114.60" y="17.40" width="1.85" height="2.4" fill="#2a2d34"/>
<rect x="119.25" y="11.40" width="3.85" height="4.6" fill="#f4f5f7"/>
<rect x="120.25" y="13.60" width="1.85" height="2.4" fill="#2a2d34"/>
<rect x="119.25" y="17.40" width="3.85" height="4.6" fill="#f4f5f7"/>
<rect x="120.25" y="17.40" width="1.85" height="2.4" fill="#2a2d34"/>
<rect x="124.90" y="11.40" width="3.85" height="4.6" fill="#f4f5f7"/>
<rect x="125.90" y="13.60" width="1.85" height="2.4" fill="#2a2d34"/>
<rect x="124.90" y="17.40" width="3.85" height="4.6" fill="#f4f5f7"/>
<rect x="125.90" y="17.40" width="1.85" height="2.4" fill="#2a2d34"/>
<rect x="130.55" y="11.40" width="3.85" height="4.6" fill="#f4f5f7"/>
<rect x="131.55" y="13.60" width="1.85" height="2.4" fill="#2a2d34"/>
<rect x="130.55" y="17.40" width="3.85" height="4.6" fill="#f4f5f7"/>
<rect x="131.55" y="17.40" width="1.85" height="2.4" fill="#2a2d34"/>
<rect x="136.20" y="11.40" width="3.85" height="4.6" fill="#f4f5f7"/>
<rect x="137.20" y="13.60" width="1.85" height="2.4" fill="#2a2d34"/>
<rect x="136.20" y="17.40" width="3.85" height="4.6" fill="#f4f5f7"/>
<rect x="137.20" y="17.40" width="1.85" height="2.4" fill="#2a2d34"/>
<rect x="141.85" y="11.40" width="3.85" height="4.6" fill="#f4f5f7"/>
<rect x="142.85" y="13.60" width="1.85" height="2.4" fill="#2a2d34"/>
<rect x="141.85" y="17.40" width="3.85" height="4.6" fill="#f4f5f7"/>
<rect x="142.85" y="17.40" width="1.85" height="2.4" fill="#2a2d34"/>
<rect x="147.50" y="11.40" width="3.85" height="4.6" fill="#f4f5f7"/>
<rect x="148.50" y="13.60" width="1.85" height="2.4" fill="#2a2d34"/>
<rect x="147.50" y="17.40" width="3.85" height="4.6" fill="#f4f5f7"/>
<rect x="148.50" y="17.40" width="1.85" height="2.4" fill="#2a2d34"/>
<rect x="153.15" y="11.40" width="3.85" height="4.6" fill="#f4f5f7"/>
<rect x="154.15" y="13.60" width="1.85" height="2.4" fill="#2a2d34"/>
<rect x="153.15" y="17.40" width="3.85" height="4.6" fill="#f4f5f7"/>
<rect x="154.15" y="17.40" width="1.85" height="2.4" fill="#2a2d34"/>
<rect x="160.80" y="10.60" width="6.6" height="5.4" fill="#8e939c" stroke="#c8ccd2" stroke-width="0.4"/>
<rect x="162.20" y="12.20" width="3.8" height="2.4" fill="#3a3d44"/>
<rect x="160.80" y="17.00" width="6.6" height="5.4" fill="#8e939c" stroke="#c8ccd2" stroke-width="0.4"/>
<rect x="162.20" y="18.60" width="3.8" height="2.4" fill="#3a3d44"/>
<rect x="168.60" y="10.60" width="6.6" height="5.4" fill="#8e939c" stroke="#c8ccd2" stroke-width="0.4"/>
<rect x="170.00" y="12.20" width="3.8" height="2.4" fill="#3a3d44"/>
<rect x="168.60" y="17.00" width="6.6" height="5.4" fill="#8e939c" stroke="#c8ccd2" stroke-width="0.4"/>
<rect x="170.00" y="18.60" width="3.8" height="2.4" fill="#3a3d44"/>
</g>
<g clip-path="url(#ledclip)">
<rect x="597" y="55" width="194" height="81.5" fill="url(#gLed)"/>
<ellipse cx="694" cy="192" rx="152" ry="87" fill="url(#gGlobe)"/>
<ellipse cx="694" cy="192" rx="152" ry="87" fill="none" stroke="#3a7af0" stroke-width="0.9" opacity="0.5"/>
<ellipse cx="694" cy="197" rx="140" ry="84" fill="none" stroke="#2c5cd0" stroke-width="0.6" opacity="0.6"/>
<path d="M600,134 Q640,112 694,109 M788,134 Q748,112 694,109 M640,136 Q660,116 694,113 Q728,116 748,136" fill="none" stroke="#2a58d0" stroke-width="0.6" opacity="0.55"/>
<circle cx="685.0" cy="100.7" r="0.8" fill="#4a8af0" opacity="0.60"/>
<circle cx="710.6" cy="71.4" r="1.0" fill="#4a8af0" opacity="0.66"/>
<circle cx="749.7" cy="64.3" r="0.6" fill="#3a90f8" opacity="0.40"/>
<circle cx="752.8" cy="111.1" r="0.4" fill="#4a8af0" opacity="0.83"/>
<circle cx="723.2" cy="105.0" r="0.5" fill="#2a7ae8" opacity="0.77"/>
<circle cx="611.0" cy="59.8" r="0.5" fill="#2a7ae8" opacity="0.74"/>
<circle cx="661.0" cy="103.1" r="0.5" fill="#3a90f8" opacity="0.67"/>
<circle cx="694.0" cy="108.7" r="0.8" fill="#2cb8e8" opacity="0.55"/>
<circle cx="703.7" cy="129.7" r="0.4" fill="#2cb8e8" opacity="0.51"/>
<circle cx="642.6" cy="79.5" r="0.4" fill="#2a7ae8" opacity="0.55"/>
<circle cx="759.9" cy="87.1" r="0.4" fill="#2a7ae8" opacity="0.46"/>
<circle cx="775.1" cy="61.1" r="0.8" fill="#4a8af0" opacity="0.56"/>
<circle cx="706.6" cy="72.5" r="0.6" fill="#2cb8e8" opacity="0.39"/>
<circle cx="662.2" cy="132.2" r="0.4" fill="#3a90f8" opacity="0.47"/>
<circle cx="618.2" cy="61.7" r="0.8" fill="#3a90f8" opacity="0.69"/>
<circle cx="634.8" cy="96.7" r="0.5" fill="#4a8af0" opacity="0.67"/>
<circle cx="621.1" cy="89.8" r="0.5" fill="#2a7ae8" opacity="0.48"/>
<circle cx="783.5" cy="119.7" r="0.6" fill="#2a7ae8" opacity="0.46"/>
<circle cx="673.9" cy="123.6" r="1.0" fill="#2a7ae8" opacity="0.37"/>
<circle cx="626.8" cy="91.4" r="0.4" fill="#2cb8e8" opacity="0.77"/>
<circle cx="672.4" cy="62.8" r="0.5" fill="#3a90f8" opacity="0.36"/>
<circle cx="669.0" cy="105.5" r="0.5" fill="#4a8af0" opacity="0.77"/>
<circle cx="624.8" cy="87.1" r="0.5" fill="#2cb8e8" opacity="0.80"/>
<circle cx="754.4" cy="76.5" r="0.5" fill="#3a90f8" opacity="0.72"/>
<circle cx="777.7" cy="72.3" r="0.8" fill="#4a8af0" opacity="0.65"/>
<circle cx="679.1" cy="65.1" r="0.4" fill="#2cb8e8" opacity="0.47"/>
<circle cx="732.9" cy="77.0" r="1.0" fill="#4a8af0" opacity="0.50"/>
<circle cx="632.3" cy="113.2" r="0.4" fill="#3a90f8" opacity="0.46"/>
<circle cx="705.3" cy="123.5" r="1.0" fill="#2a7ae8" opacity="0.49"/>
<circle cx="773.3" cy="72.9" r="0.4" fill="#2a7ae8" opacity="0.48"/>
<circle cx="683.7" cy="61.7" r="0.5" fill="#2cb8e8" opacity="0.53"/>
<circle cx="707.7" cy="67.3" r="0.6" fill="#3a90f8" opacity="0.80"/>
<circle cx="785.3" cy="108.2" r="1.0" fill="#3a90f8" opacity="0.64"/>
<circle cx="774.5" cy="94.0" r="0.6" fill="#2cb8e8" opacity="0.83"/>
<circle cx="603.0" cy="106.6" r="0.8" fill="#2a7ae8" opacity="0.72"/>
<circle cx="659.6" cy="134.9" r="0.4" fill="#4a8af0" opacity="0.62"/>
<circle cx="739.0" cy="127.2" r="0.5" fill="#2cb8e8" opacity="0.53"/>
<circle cx="729.2" cy="127.3" r="0.8" fill="#2a7ae8" opacity="0.78"/>
<circle cx="707.8" cy="105.7" r="0.8" fill="#4a8af0" opacity="0.64"/>
<circle cx="714.7" cy="63.3" r="0.4" fill="#2cb8e8" opacity="0.79"/>
<circle cx="737.4" cy="87.3" r="1.0" fill="#4a8af0" opacity="0.57"/>
<circle cx="758.3" cy="63.5" r="1.0" fill="#2a7ae8" opacity="0.51"/>
<circle cx="615.7" cy="58.7" r="0.4" fill="#4a8af0" opacity="0.74"/>
<circle cx="724.4" cy="94.9" r="0.4" fill="#2cb8e8" opacity="0.50"/>
<circle cx="727.8" cy="72.8" r="0.5" fill="#2cb8e8" opacity="0.68"/>
<circle cx="683.0" cy="126.6" r="0.6" fill="#4a8af0" opacity="0.68"/>
<circle cx="636.7" cy="90.6" r="0.5" fill="#3a90f8" opacity="0.54"/>
<circle cx="709.8" cy="81.7" r="0.5" fill="#3a90f8" opacity="0.60"/>
<circle cx="758.0" cy="123.2" r="0.4" fill="#2cb8e8" opacity="0.76"/>
<circle cx="620.4" cy="93.8" r="0.5" fill="#4a8af0" opacity="0.54"/>
<circle cx="697.8" cy="109.4" r="1.0" fill="#4a8af0" opacity="0.51"/>
<circle cx="756.5" cy="78.7" r="1.0" fill="#2a7ae8" opacity="0.69"/>
<circle cx="652.4" cy="84.6" r="1.0" fill="#2a7ae8" opacity="0.67"/>
<circle cx="676.0" cy="71.8" r="0.6" fill="#3a90f8" opacity="0.74"/>
<circle cx="750.4" cy="133.8" r="0.4" fill="#4a8af0" opacity="0.40"/>
<circle cx="700.7" cy="106.9" r="0.6" fill="#2a7ae8" opacity="0.69"/>
<circle cx="636.9" cy="94.1" r="0.5" fill="#2a7ae8" opacity="0.73"/>
<circle cx="700.6" cy="59.8" r="0.5" fill="#2cb8e8" opacity="0.74"/>
<circle cx="701.5" cy="130.9" r="1.0" fill="#3a90f8" opacity="0.55"/>
<circle cx="749.5" cy="127.7" r="0.4" fill="#4a8af0" opacity="0.82"/>
<circle cx="633" cy="125.5" r="1.5" fill="#30e0f0"/><circle cx="633" cy="125.5" r="3" fill="#30c8f0" opacity="0.22"/>
<circle cx="666" cy="126.5" r="1.5" fill="#30e0f0"/><circle cx="666" cy="126.5" r="3" fill="#30c8f0" opacity="0.22"/>
<circle cx="692.5" cy="130.5" r="1.5" fill="#30e0f0"/><circle cx="692.5" cy="130.5" r="3" fill="#30c8f0" opacity="0.22"/>
<circle cx="729" cy="125" r="1.5" fill="#30e0f0"/><circle cx="729" cy="125" r="3" fill="#30c8f0" opacity="0.22"/>
<circle cx="758" cy="127.5" r="1.5" fill="#30e0f0"/><circle cx="758" cy="127.5" r="3" fill="#30c8f0" opacity="0.22"/>
<circle cx="774" cy="129.5" r="1.5" fill="#30e0f0"/><circle cx="774" cy="129.5" r="3" fill="#30c8f0" opacity="0.22"/>
<circle cx="650" cy="131" r="1.5" fill="#30e0f0"/><circle cx="650" cy="131" r="3" fill="#30c8f0" opacity="0.22"/>
<circle cx="708" cy="118.5" r="1.5" fill="#30e0f0"/><circle cx="708" cy="118.5" r="3" fill="#30c8f0" opacity="0.22"/>
<circle cx="620" cy="108" r="1.5" fill="#30e0f0"/><circle cx="620" cy="108" r="3" fill="#30c8f0" opacity="0.22"/>
<circle cx="768" cy="104" r="1.5" fill="#30e0f0"/><circle cx="768" cy="104" r="3" fill="#30c8f0" opacity="0.22"/>
</g>
<path d="M667,84 Q676,66 700,68.6 Q714,70 722.5,80" fill="none" stroke="#dfe3ee" stroke-width="1.2"/>
<path d="M670,84 Q678,69.5 699,71.6 Q712,73 719,81" fill="none" stroke="#9aa6c8" stroke-width="0.7"/>
<polygon points="671.5,75.6 720.5,75.6 717,85.4 666,85.4" fill="#f4f5f8"/>
<text x="668.6" y="84.6" font-size="10.6" font-weight="700" font-style="italic" style="font-family:'Liberation Sans','Noto Sans CJK SC',sans-serif" fill="#d41c28" textLength="21.5" lengthAdjust="spacingAndGlyphs">AV</text>
<text x="689.6" y="84.6" font-size="10.6" font-weight="700" font-style="italic" style="font-family:'Liberation Sans','Noto Sans CJK SC',sans-serif" fill="#23409e" textLength="28.5" lengthAdjust="spacingAndGlyphs">SYS</text>
<text x="693.2" y="96.8" font-size="10.4" font-weight="900" text-anchor="middle" fill="#ffffff" style="font-family:'Liberation Sans','Noto Sans CJK SC',sans-serif" textLength="55" lengthAdjust="spacingAndGlyphs">视通科技</text>
<text x="693.2" y="115.8" font-size="5" font-weight="700" text-anchor="middle" fill="#eef0ff" style="font-family:'Liberation Sans','Noto Sans CJK SC',sans-serif" textLength="113" lengthAdjust="spacing">分布式KVM坐席协作系统</text>
<rect x="670.5" y="122.8" width="46.5" height="5.2" rx="2.6" fill="#ffffff"/>
<text x="693.7" y="126.9" font-size="3.5" font-weight="700" text-anchor="middle" fill="#1e3ca0" style="font-family:'Liberation Sans','Noto Sans CJK SC',sans-serif">智慧融合　高效决策</text>
<line x1="647.30" y1="158.50" x2="647.30" y2="143.60" stroke="#1414f0" stroke-width="1.3"/>
<polygon points="647.30,140.00 649.60,144.50 645.00,144.50" fill="#1414f0"/>
<line x1="657.30" y1="158.50" x2="657.30" y2="143.60" stroke="#c0c0ff" stroke-width="1.0"/>
<polygon points="657.30,140.00 659.60,144.50 655.00,144.50" fill="#c0c0ff"/>
<polygon points="657.30,140.00 659.60,144.50 655.00,144.50" fill="#1414f0"/>
<line x1="732.30" y1="158.50" x2="732.30" y2="143.60" stroke="#1414f0" stroke-width="1.3"/>
<polygon points="732.30,140.00 734.60,144.50 730.00,144.50" fill="#1414f0"/>
<line x1="742.30" y1="158.50" x2="742.30" y2="143.60" stroke="#7070ff" stroke-width="1.0"/>
<polygon points="742.30,140.00 744.60,144.50 740.00,144.50" fill="#7070ff"/>
<polygon points="742.30,140.00 744.60,144.50 740.00,144.50" fill="#1414f0"/>
<g transform="translate(615.5,159) scale(0.8929,0.8857)">
<rect x="0" y="0" width="84" height="17.5" fill="#b8bac3" stroke="#54565f" stroke-width="1"/>
<rect x="0.6" y="0.6" width="82.8" height="2" fill="#c9ccd3"/>
<rect x="6" y="8.3" width="6.2" height="4.6" fill="#1c2024"/>
<rect x="7.2" y="9" width="2.2" height="1.6" fill="#3c8c5a"/>
<rect x="15" y="9.6" width="3" height="3.2" fill="#2d8a3a"/>
<circle cx="27" cy="4.2" r="1.5" fill="#f09a28"/>
<rect x="23.2" y="9.2" width="8.6" height="4" fill="#f4f4f4" stroke="#8a8d94" stroke-width="0.4"/>
<rect x="21.8" y="10.4" width="1.2" height="1.6" fill="#e8e8e8"/><rect x="32" y="10.4" width="1.2" height="1.6" fill="#e8e8e8"/>
<rect x="39.2" y="9.2" width="8.6" height="4" fill="#f4f4f4" stroke="#8a8d94" stroke-width="0.4"/>
<rect x="37.8" y="10.4" width="1.2" height="1.6" fill="#e8e8e8"/><rect x="48" y="10.4" width="1.2" height="1.6" fill="#e8e8e8"/>
<rect x="52.6" y="7.2" width="4.6" height="2.6" fill="#30343a"/><rect x="52.6" y="10.6" width="4.6" height="2.6" fill="#30343a"/>
<rect x="53.3" y="7.9" width="3.2" height="0.8" fill="#d8d8d8"/><rect x="53.3" y="11.3" width="3.2" height="0.8" fill="#d8d8d8"/>
<rect x="59.6" y="9.8" width="10.6" height="3.6" fill="#2c9a3c"/>
<rect x="62.9" y="9.8" width="0.5" height="3.6" fill="#1c6a28"/><rect x="66.4" y="9.8" width="0.5" height="3.6" fill="#1c6a28"/>
<circle cx="75.6" cy="9.6" r="1.3" fill="#e6e6ea" stroke="#9a9da4" stroke-width="0.3"/>
<rect x="78.6" y="10.6" width="2" height="3.6" fill="#eeeeee"/>
</g>
<g transform="translate(700,159) scale(0.8929,0.8857)">
<rect x="0" y="0" width="84" height="17.5" fill="#b8bac3" stroke="#54565f" stroke-width="1"/>
<rect x="0.6" y="0.6" width="82.8" height="2" fill="#c9ccd3"/>
<rect x="6" y="8.3" width="6.2" height="4.6" fill="#1c2024"/>
<rect x="7.2" y="9" width="2.2" height="1.6" fill="#3c8c5a"/>
<rect x="15" y="9.6" width="3" height="3.2" fill="#2d8a3a"/>
<circle cx="27" cy="4.2" r="1.5" fill="#f09a28"/>
<rect x="23.2" y="9.2" width="8.6" height="4" fill="#f4f4f4" stroke="#8a8d94" stroke-width="0.4"/>
<rect x="21.8" y="10.4" width="1.2" height="1.6" fill="#e8e8e8"/><rect x="32" y="10.4" width="1.2" height="1.6" fill="#e8e8e8"/>
<rect x="39.2" y="9.2" width="8.6" height="4" fill="#f4f4f4" stroke="#8a8d94" stroke-width="0.4"/>
<rect x="37.8" y="10.4" width="1.2" height="1.6" fill="#e8e8e8"/><rect x="48" y="10.4" width="1.2" height="1.6" fill="#e8e8e8"/>
<rect x="52.6" y="7.2" width="4.6" height="2.6" fill="#30343a"/><rect x="52.6" y="10.6" width="4.6" height="2.6" fill="#30343a"/>
<rect x="53.3" y="7.9" width="3.2" height="0.8" fill="#d8d8d8"/><rect x="53.3" y="11.3" width="3.2" height="0.8" fill="#d8d8d8"/>
<rect x="59.6" y="9.8" width="10.6" height="3.6" fill="#2c9a3c"/>
<rect x="62.9" y="9.8" width="0.5" height="3.6" fill="#1c6a28"/><rect x="66.4" y="9.8" width="0.5" height="3.6" fill="#1c6a28"/>
<circle cx="75.6" cy="9.6" r="1.3" fill="#e6e6ea" stroke="#9a9da4" stroke-width="0.3"/>
<rect x="78.6" y="10.6" width="2" height="3.6" fill="#eeeeee"/>
</g>
<g clip-path="url(#mc2)">
<rect x="569.6" y="225.6" width="69.5" height="36.8" fill="url(#gWpBase)"/>
<ellipse cx="605.39" cy="242.53" rx="34.75" ry="11.04" fill="url(#gStreak)"/>
<circle cx="605.39" cy="242.53" r="24.29" fill="url(#gGlow)"/>
<circle cx="627.28" cy="244.00" r="14.72" fill="url(#gPlanet)"/>
<path d="M624.34,229.57 A14.72,14.72 0 0 0 624.34,258.43" fill="none" stroke="#ffe0f0" stroke-width="1.29" opacity="0.95"/>
<circle cx="580.37" cy="253.75" r="5.34" fill="#4a30a0"/>
<path d="M577.17,249.48 A5.34,5.34 0 0 1 585.60,254.82" fill="none" stroke="#b08ae0" stroke-width="0.74" opacity="0.9"/>
<rect x="569.6" y="225.6" width="69.5" height="36.8" fill="url(#gWpTop)"/>
</g>
<path d="M569.6,262.4 Q604.35,259.28 639.1,262.4" fill="none" stroke="#f0f1f4" stroke-width="1.1"/>
<rect x="603.55" y="260.84" width="1.6" height="7.64" fill="#c4c7cc"/>
<path d="M582.11,272.20 Q604.35,260.44 626.59,272.20" fill="none" stroke="#b9bcc3" stroke-width="1.5" stroke-linecap="round"/>
<g clip-path="url(#mc3)">
<rect x="659.6" y="225.6" width="69.5" height="36.8" fill="url(#gWpBase)"/>
<ellipse cx="695.39" cy="242.53" rx="34.75" ry="11.04" fill="url(#gStreak)"/>
<circle cx="695.39" cy="242.53" r="24.29" fill="url(#gGlow)"/>
<circle cx="717.28" cy="244.00" r="14.72" fill="url(#gPlanet)"/>
<path d="M714.34,229.57 A14.72,14.72 0 0 0 714.34,258.43" fill="none" stroke="#ffe0f0" stroke-width="1.29" opacity="0.95"/>
<circle cx="670.37" cy="253.75" r="5.34" fill="#4a30a0"/>
<path d="M667.17,249.48 A5.34,5.34 0 0 1 675.60,254.82" fill="none" stroke="#b08ae0" stroke-width="0.74" opacity="0.9"/>
<rect x="659.6" y="225.6" width="69.5" height="36.8" fill="url(#gWpTop)"/>
</g>
<path d="M659.6,262.4 Q694.35,259.28 729.1,262.4" fill="none" stroke="#f0f1f4" stroke-width="1.1"/>
<rect x="693.55" y="260.84" width="1.6" height="7.64" fill="#c4c7cc"/>
<path d="M672.11,272.20 Q694.35,260.44 716.59,272.20" fill="none" stroke="#b9bcc3" stroke-width="1.5" stroke-linecap="round"/>
<g clip-path="url(#mc4)">
<rect x="749.6" y="225.6" width="69.5" height="36.8" fill="url(#gWpBase)"/>
<ellipse cx="785.39" cy="242.53" rx="34.75" ry="11.04" fill="url(#gStreak)"/>
<circle cx="785.39" cy="242.53" r="24.29" fill="url(#gGlow)"/>
<circle cx="807.28" cy="244.00" r="14.72" fill="url(#gPlanet)"/>
<path d="M804.34,229.57 A14.72,14.72 0 0 0 804.34,258.43" fill="none" stroke="#ffe0f0" stroke-width="1.29" opacity="0.95"/>
<circle cx="760.37" cy="253.75" r="5.34" fill="#4a30a0"/>
<path d="M757.17,249.48 A5.34,5.34 0 0 1 765.60,254.82" fill="none" stroke="#b08ae0" stroke-width="0.74" opacity="0.9"/>
<rect x="749.6" y="225.6" width="69.5" height="36.8" fill="url(#gWpTop)"/>
</g>
<path d="M749.6,262.4 Q784.35,259.28 819.1,262.4" fill="none" stroke="#f0f1f4" stroke-width="1.1"/>
<rect x="783.55" y="260.84" width="1.6" height="7.64" fill="#c4c7cc"/>
<path d="M762.11,272.20 Q784.35,260.44 806.59,272.20" fill="none" stroke="#b9bcc3" stroke-width="1.5" stroke-linecap="round"/>
<line x1="604.30" y1="292.00" x2="604.30" y2="277.60" stroke="#1414f0" stroke-width="1.2"/>
<polygon points="604.30,274.00 606.60,278.50 602.00,278.50" fill="#1414f0"/>
<line x1="694.30" y1="292.00" x2="694.30" y2="277.60" stroke="#1414f0" stroke-width="1.2"/>
<polygon points="694.30,274.00 696.60,278.50 692.00,278.50" fill="#1414f0"/>
<line x1="784.30" y1="292.00" x2="784.30" y2="277.60" stroke="#1414f0" stroke-width="1.2"/>
<polygon points="784.30,274.00 786.60,278.50 782.00,278.50" fill="#1414f0"/>
<g transform="translate(567,292) scale(0.8929,0.8857)">
<rect x="0" y="0" width="84" height="17.5" fill="#b8bac3" stroke="#54565f" stroke-width="1"/>
<rect x="0.6" y="0.6" width="82.8" height="2" fill="#c9ccd3"/>
<rect x="6" y="8.3" width="6.2" height="4.6" fill="#1c2024"/>
<rect x="7.2" y="9" width="2.2" height="1.6" fill="#3c8c5a"/>
<rect x="15" y="9.6" width="3" height="3.2" fill="#2d8a3a"/>
<circle cx="27" cy="4.2" r="1.5" fill="#f09a28"/>
<rect x="23.2" y="9.2" width="8.6" height="4" fill="#f4f4f4" stroke="#8a8d94" stroke-width="0.4"/>
<rect x="21.8" y="10.4" width="1.2" height="1.6" fill="#e8e8e8"/><rect x="32" y="10.4" width="1.2" height="1.6" fill="#e8e8e8"/>
<rect x="39.2" y="9.2" width="8.6" height="4" fill="#f4f4f4" stroke="#8a8d94" stroke-width="0.4"/>
<rect x="37.8" y="10.4" width="1.2" height="1.6" fill="#e8e8e8"/><rect x="48" y="10.4" width="1.2" height="1.6" fill="#e8e8e8"/>
<rect x="52.6" y="7.2" width="4.6" height="2.6" fill="#30343a"/><rect x="52.6" y="10.6" width="4.6" height="2.6" fill="#30343a"/>
<rect x="53.3" y="7.9" width="3.2" height="0.8" fill="#d8d8d8"/><rect x="53.3" y="11.3" width="3.2" height="0.8" fill="#d8d8d8"/>
<rect x="59.6" y="9.8" width="10.6" height="3.6" fill="#2c9a3c"/>
<rect x="62.9" y="9.8" width="0.5" height="3.6" fill="#1c6a28"/><rect x="66.4" y="9.8" width="0.5" height="3.6" fill="#1c6a28"/>
<circle cx="75.6" cy="9.6" r="1.3" fill="#e6e6ea" stroke="#9a9da4" stroke-width="0.3"/>
<rect x="78.6" y="10.6" width="2" height="3.6" fill="#eeeeee"/>
</g>
<g transform="translate(657,292) scale(0.8929,0.8857)">
<rect x="0" y="0" width="84" height="17.5" fill="#b8bac3" stroke="#54565f" stroke-width="1"/>
<rect x="0.6" y="0.6" width="82.8" height="2" fill="#c9ccd3"/>
<rect x="6" y="8.3" width="6.2" height="4.6" fill="#1c2024"/>
<rect x="7.2" y="9" width="2.2" height="1.6" fill="#3c8c5a"/>
<rect x="15" y="9.6" width="3" height="3.2" fill="#2d8a3a"/>
<circle cx="27" cy="4.2" r="1.5" fill="#f09a28"/>
<rect x="23.2" y="9.2" width="8.6" height="4" fill="#f4f4f4" stroke="#8a8d94" stroke-width="0.4"/>
<rect x="21.8" y="10.4" width="1.2" height="1.6" fill="#e8e8e8"/><rect x="32" y="10.4" width="1.2" height="1.6" fill="#e8e8e8"/>
<rect x="39.2" y="9.2" width="8.6" height="4" fill="#f4f4f4" stroke="#8a8d94" stroke-width="0.4"/>
<rect x="37.8" y="10.4" width="1.2" height="1.6" fill="#e8e8e8"/><rect x="48" y="10.4" width="1.2" height="1.6" fill="#e8e8e8"/>
<rect x="52.6" y="7.2" width="4.6" height="2.6" fill="#30343a"/><rect x="52.6" y="10.6" width="4.6" height="2.6" fill="#30343a"/>
<rect x="53.3" y="7.9" width="3.2" height="0.8" fill="#d8d8d8"/><rect x="53.3" y="11.3" width="3.2" height="0.8" fill="#d8d8d8"/>
<rect x="59.6" y="9.8" width="10.6" height="3.6" fill="#2c9a3c"/>
<rect x="62.9" y="9.8" width="0.5" height="3.6" fill="#1c6a28"/><rect x="66.4" y="9.8" width="0.5" height="3.6" fill="#1c6a28"/>
<circle cx="75.6" cy="9.6" r="1.3" fill="#e6e6ea" stroke="#9a9da4" stroke-width="0.3"/>
<rect x="78.6" y="10.6" width="2" height="3.6" fill="#eeeeee"/>
</g>
<g transform="translate(747,292) scale(0.8929,0.8857)">
<rect x="0" y="0" width="84" height="17.5" fill="#b8bac3" stroke="#54565f" stroke-width="1"/>
<rect x="0.6" y="0.6" width="82.8" height="2" fill="#c9ccd3"/>
<rect x="6" y="8.3" width="6.2" height="4.6" fill="#1c2024"/>
<rect x="7.2" y="9" width="2.2" height="1.6" fill="#3c8c5a"/>
<rect x="15" y="9.6" width="3" height="3.2" fill="#2d8a3a"/>
<circle cx="27" cy="4.2" r="1.5" fill="#f09a28"/>
<rect x="23.2" y="9.2" width="8.6" height="4" fill="#f4f4f4" stroke="#8a8d94" stroke-width="0.4"/>
<rect x="21.8" y="10.4" width="1.2" height="1.6" fill="#e8e8e8"/><rect x="32" y="10.4" width="1.2" height="1.6" fill="#e8e8e8"/>
<rect x="39.2" y="9.2" width="8.6" height="4" fill="#f4f4f4" stroke="#8a8d94" stroke-width="0.4"/>
<rect x="37.8" y="10.4" width="1.2" height="1.6" fill="#e8e8e8"/><rect x="48" y="10.4" width="1.2" height="1.6" fill="#e8e8e8"/>
<rect x="52.6" y="7.2" width="4.6" height="2.6" fill="#30343a"/><rect x="52.6" y="10.6" width="4.6" height="2.6" fill="#30343a"/>
<rect x="53.3" y="7.9" width="3.2" height="0.8" fill="#d8d8d8"/><rect x="53.3" y="11.3" width="3.2" height="0.8" fill="#d8d8d8"/>
<rect x="59.6" y="9.8" width="10.6" height="3.6" fill="#2c9a3c"/>
<rect x="62.9" y="9.8" width="0.5" height="3.6" fill="#1c6a28"/><rect x="66.4" y="9.8" width="0.5" height="3.6" fill="#1c6a28"/>
<circle cx="75.6" cy="9.6" r="1.3" fill="#e6e6ea" stroke="#9a9da4" stroke-width="0.3"/>
<rect x="78.6" y="10.6" width="2" height="3.6" fill="#eeeeee"/>
</g>
<g transform="translate(590,369) scale(0.9048,0.8857)">
<rect x="0" y="0" width="84" height="17.5" fill="#b8bac3" stroke="#54565f" stroke-width="1"/>
<rect x="0.6" y="0.6" width="82.8" height="2" fill="#c9ccd3"/>
<rect x="6" y="8.3" width="6.2" height="4.6" fill="#1c2024"/>
<rect x="7.2" y="9" width="2.2" height="1.6" fill="#3c8c5a"/>
<rect x="15" y="9.6" width="3" height="3.2" fill="#2d8a3a"/>
<circle cx="27" cy="4.2" r="1.5" fill="#f09a28"/>
<rect x="23.2" y="9.2" width="8.6" height="4" fill="#f4f4f4" stroke="#8a8d94" stroke-width="0.4"/>
<rect x="21.8" y="10.4" width="1.2" height="1.6" fill="#e8e8e8"/><rect x="32" y="10.4" width="1.2" height="1.6" fill="#e8e8e8"/>
<rect x="39.2" y="9.2" width="8.6" height="4" fill="#f4f4f4" stroke="#8a8d94" stroke-width="0.4"/>
<rect x="37.8" y="10.4" width="1.2" height="1.6" fill="#e8e8e8"/><rect x="48" y="10.4" width="1.2" height="1.6" fill="#e8e8e8"/>
<rect x="52.6" y="7.2" width="4.6" height="2.6" fill="#30343a"/><rect x="52.6" y="10.6" width="4.6" height="2.6" fill="#30343a"/>
<rect x="53.3" y="7.9" width="3.2" height="0.8" fill="#d8d8d8"/><rect x="53.3" y="11.3" width="3.2" height="0.8" fill="#d8d8d8"/>
<rect x="59.6" y="9.8" width="10.6" height="3.6" fill="#2c9a3c"/>
<rect x="62.9" y="9.8" width="0.5" height="3.6" fill="#1c6a28"/><rect x="66.4" y="9.8" width="0.5" height="3.6" fill="#1c6a28"/>
<circle cx="75.6" cy="9.6" r="1.3" fill="#e6e6ea" stroke="#9a9da4" stroke-width="0.3"/>
<rect x="78.6" y="10.6" width="2" height="3.6" fill="#eeeeee"/>
</g>
<line x1="679.00" y1="374.60" x2="709.00" y2="374.60" stroke="#1414f0" stroke-width="1.3"/>
<polygon points="713.00,374.60 708.00,376.80 708.00,372.40" fill="#1414f0"/>
<polygon points="675.00,374.60 680.00,376.80 680.00,372.40" fill="#1414f0"/>
<line x1="679.00" y1="381.20" x2="709.00" y2="381.20" stroke="#00b050" stroke-width="1.1"/>
<polygon points="713.00,381.20 708.00,383.40 708.00,379.00" fill="#00b050"/>
<polygon points="675.00,381.20 680.00,383.40 680.00,379.00" fill="#00b050"/>
<polygon points="746,379.8 805.5,379.8 826,393.2 726,393.2" fill="#6b7288" stroke="#5a6074" stroke-width="0.4"/>
<rect x="726" y="393.2" width="100" height="10" fill="#9aa0b0" stroke="#6a7082" stroke-width="0.4"/>
<rect x="724.6" y="393.2" width="3.2" height="10" fill="#b4b9c6"/><rect x="824.2" y="393.2" width="3.2" height="10" fill="#b4b9c6"/>
<line x1="732" y1="398.4" x2="821" y2="398.4" stroke="#5c6274" stroke-width="5" stroke-dasharray="0.6 0.9"/>
<rect x="771" y="395.6" width="11" height="5.4" fill="#1e2028"/>
<ellipse cx="776" cy="384.6" rx="19.4" ry="6" fill="#3c4049"/>
<ellipse cx="776" cy="383.4" rx="18" ry="4.8" fill="#50545e"/>
<rect x="765.6" y="359" width="3.6" height="23" rx="1" fill="#4c505a"/><rect x="782.8" y="359" width="3.6" height="23" rx="1" fill="#4c505a"/>
<rect x="767" y="377.6" width="18" height="5" fill="#4c505a"/>
<rect x="769.6" y="371.6" width="12.8" height="6.2" fill="#f4f5f7"/>
<rect x="768.4" y="354.8" width="15.4" height="16.8" rx="1.6" fill="#585c66"/>
<ellipse cx="776" cy="361.6" rx="4.8" ry="4.4" fill="#34373e"/><ellipse cx="776" cy="361.6" rx="2.8" ry="2.5" fill="#0e0f12"/>
<g transform="translate(585.5,469) scale(0.9643,1.0857)">
<rect x="0" y="0" width="84" height="17.5" fill="#b8bac3" stroke="#54565f" stroke-width="1"/>
<rect x="0.6" y="0.6" width="82.8" height="2" fill="#c9ccd3"/>
<rect x="6" y="8.3" width="6.2" height="4.6" fill="#1c2024"/>
<rect x="7.2" y="9" width="2.2" height="1.6" fill="#3c8c5a"/>
<rect x="15" y="9.6" width="3" height="3.2" fill="#2d8a3a"/>
<circle cx="27" cy="4.2" r="1.5" fill="#f09a28"/>
<rect x="23.2" y="9.2" width="8.6" height="4" fill="#f4f4f4" stroke="#8a8d94" stroke-width="0.4"/>
<rect x="21.8" y="10.4" width="1.2" height="1.6" fill="#e8e8e8"/><rect x="32" y="10.4" width="1.2" height="1.6" fill="#e8e8e8"/>
<rect x="39.2" y="9.2" width="8.6" height="4" fill="#f4f4f4" stroke="#8a8d94" stroke-width="0.4"/>
<rect x="37.8" y="10.4" width="1.2" height="1.6" fill="#e8e8e8"/><rect x="48" y="10.4" width="1.2" height="1.6" fill="#e8e8e8"/>
<rect x="52.6" y="7.2" width="4.6" height="2.6" fill="#30343a"/><rect x="52.6" y="10.6" width="4.6" height="2.6" fill="#30343a"/>
<rect x="53.3" y="7.9" width="3.2" height="0.8" fill="#d8d8d8"/><rect x="53.3" y="11.3" width="3.2" height="0.8" fill="#d8d8d8"/>
<rect x="59.6" y="9.8" width="10.6" height="3.6" fill="#2c9a3c"/>
<rect x="62.9" y="9.8" width="0.5" height="3.6" fill="#1c6a28"/><rect x="66.4" y="9.8" width="0.5" height="3.6" fill="#1c6a28"/>
<circle cx="75.6" cy="9.6" r="1.3" fill="#e6e6ea" stroke="#9a9da4" stroke-width="0.3"/>
<rect x="78.6" y="10.6" width="2" height="3.6" fill="#eeeeee"/>
</g>
<line x1="674.60" y1="473.30" x2="707.40" y2="473.30" stroke="#f07d1e" stroke-width="1.9"/>
<polygon points="713.00,473.30 706.00,476.50 706.00,470.10" fill="#f07d1e"/>
<polygon points="669.00,473.30 676.00,476.50 676.00,470.10" fill="#f07d1e"/>
<line x1="669.00" y1="482.30" x2="706.60" y2="482.30" stroke="#00b050" stroke-width="2.0"/>
<polygon points="713.00,482.30 705.00,485.70 705.00,478.90" fill="#00b050"/>
<rect x="729" y="465" width="11" height="16.5" fill="#4a4c52" stroke="#2a2b2f" stroke-width="0.4"/>
<circle cx="734.5" cy="468.6" r="1.4" fill="#2c2d31"/><circle cx="734.5" cy="475.4" r="3.5" fill="#303136"/><circle cx="734.5" cy="475.4" r="1.7" fill="#4c4e54"/>
<rect x="744" y="465" width="11" height="16.5" fill="#4a4c52" stroke="#2a2b2f" stroke-width="0.4"/>
<circle cx="749.5" cy="468.6" r="1.4" fill="#2c2d31"/><circle cx="749.5" cy="475.4" r="3.5" fill="#303136"/><circle cx="749.5" cy="475.4" r="1.7" fill="#4c4e54"/>
<rect x="721.5" y="487.8" width="42.5" height="7.8" fill="#c9cbd0" stroke="#9a9da4" stroke-width="0.4"/>
<rect x="721.5" y="487.8" width="5" height="7.8" fill="#aeb1b8"/><rect x="759" y="487.8" width="5" height="7.8" fill="#aeb1b8"/>
<rect x="730" y="490" width="26" height="1" fill="#e8e9ec"/>
<line x1="764.5" y1="491" x2="775.5" y2="491" stroke="#22b860" stroke-width="2"/>
<rect x="775.5" y="488" width="51.5" height="6.2" fill="#2c3a56" stroke="#1a2236" stroke-width="0.4"/>
<rect x="773.8" y="488" width="2.6" height="6.2" fill="#1c2438"/><rect x="826" y="488" width="2.6" height="6.2" fill="#1c2438"/>
<rect x="783" y="489.6" width="4.5" height="3" fill="#c8d0e0"/><rect x="790" y="489.8" width="10" height="2.6" fill="#5ec86a"/><rect x="803" y="489.6" width="4" height="3" fill="#c8d0e0"/><rect x="811" y="489.8" width="10" height="2.6" fill="#8a98b8"/>
<g fill="none" stroke="#1a1a1a" stroke-width="0.8">
<path d="M783,477.3 H818"/>
<path d="M783,477 V488"/>
<path d="M784,475 L786.2,467.6 Q787,465.4 791,465.6"/>
<path d="M798.5,475 L800.7,467.6 Q801.5,465.4 805.5,465.6"/>
<path d="M813.5,475 L815.7,467.6 Q816.5,465.4 820.5,465.6"/>
</g>
<ellipse cx="783" cy="476.6" rx="4.6" ry="1.7" fill="#2a2c30"/>
<ellipse cx="797.5" cy="476.6" rx="4.6" ry="1.7" fill="#2a2c30"/>
<ellipse cx="812.5" cy="476.6" rx="4.6" ry="1.7" fill="#2a2c30"/>
<g transform="translate(125,566)">
<polygon points="6,13.5 27,13.5 35,17.5 34.5,19.6 0.5,19.6 0,17.5" fill="#3a3c42"/>
<polygon points="6,13.5 27,13.5 35,17.5 0,17.5" fill="#5a5d64"/>
<path d="M12,15 L15.5,5.2 Q17,1.4 22,1.2 L33,0.8" fill="none" stroke="#1c1c1e" stroke-width="0.9"/>
<ellipse cx="12.5" cy="15.2" rx="2.6" ry="1" fill="#26272b"/>
</g>
<g transform="translate(122,613) scale(1.0128,1.0000)">
<ellipse cx="19.3" cy="22.3" rx="19.3" ry="3.7" fill="url(#gCamBase)"/>
<ellipse cx="19.3" cy="21.6" rx="9" ry="2" fill="#56585e"/>
<rect x="10" y="5.6" width="3.4" height="16" rx="0.8" fill="#5e6066"/>
<rect x="25" y="5.6" width="3.4" height="16" rx="0.8" fill="#5e6066"/>
<rect x="11" y="18.4" width="16.6" height="3.4" fill="#5a5c62"/>
<rect x="13.6" y="12.4" width="11.2" height="6.2" fill="#fafafa"/>
<rect x="12.8" y="0.6" width="12.6" height="11.8" rx="1" fill="url(#gCamHead)"/>
<ellipse cx="19.1" cy="5.6" rx="4.2" ry="3.4" fill="#2e2f33"/>
<ellipse cx="19.1" cy="5.6" rx="2.9" ry="2.1" fill="#050506"/>
</g>
<path d="M165.5,581.7 H192.3 V625 H214" fill="none" stroke="#00b050" stroke-width="1.1"/>
<polygon points="219.00,625.00 214.00,627.20 214.00,622.80" fill="#00b050"/>
<path d="M167,632.7 H214" fill="none" stroke="#dcdcff" stroke-width="1.0"/>
<polygon points="219.00,632.70 214.00,634.90 214.00,630.50" fill="#1414f0"/>
<g transform="translate(224,620) scale(0.8929,0.9143)">
<rect x="0" y="0" width="84" height="17.5" fill="#b8bac3" stroke="#54565f" stroke-width="1"/>
<rect x="0.6" y="0.6" width="82.8" height="2" fill="#c9ccd3"/>
<rect x="6" y="8.3" width="6.2" height="4.6" fill="#1c2024"/>
<rect x="7.2" y="9" width="2.2" height="1.6" fill="#3c8c5a"/>
<rect x="15" y="9.6" width="3" height="3.2" fill="#2d8a3a"/>
<circle cx="27" cy="4.2" r="1.5" fill="#f09a28"/>
<rect x="23.2" y="9.2" width="8.6" height="4" fill="#f4f4f4" stroke="#8a8d94" stroke-width="0.4"/>
<rect x="21.8" y="10.4" width="1.2" height="1.6" fill="#e8e8e8"/><rect x="32" y="10.4" width="1.2" height="1.6" fill="#e8e8e8"/>
<rect x="39.2" y="9.2" width="8.6" height="4" fill="#f4f4f4" stroke="#8a8d94" stroke-width="0.4"/>
<rect x="37.8" y="10.4" width="1.2" height="1.6" fill="#e8e8e8"/><rect x="48" y="10.4" width="1.2" height="1.6" fill="#e8e8e8"/>
<rect x="52.6" y="7.2" width="4.6" height="2.6" fill="#30343a"/><rect x="52.6" y="10.6" width="4.6" height="2.6" fill="#30343a"/>
<rect x="53.3" y="7.9" width="3.2" height="0.8" fill="#d8d8d8"/><rect x="53.3" y="11.3" width="3.2" height="0.8" fill="#d8d8d8"/>
<rect x="59.6" y="9.8" width="10.6" height="3.6" fill="#2c9a3c"/>
<rect x="62.9" y="9.8" width="0.5" height="3.6" fill="#1c6a28"/><rect x="66.4" y="9.8" width="0.5" height="3.6" fill="#1c6a28"/>
<circle cx="75.6" cy="9.6" r="1.3" fill="#e6e6ea" stroke="#9a9da4" stroke-width="0.3"/>
<rect x="78.6" y="10.6" width="2" height="3.6" fill="#eeeeee"/>
</g>
<g clip-path="url(#mc5)">
<rect x="226.8" y="567.8" width="67.6" height="24.6" fill="url(#gWpBase)"/>
<ellipse cx="261.61" cy="579.12" rx="33.80" ry="7.38" fill="url(#gStreak)"/>
<circle cx="261.61" cy="579.12" r="21.16" fill="url(#gGlow)"/>
<circle cx="280.20" cy="580.10" r="10.00" fill="url(#gPlanet)"/>
<path d="M278.20,570.30 A10.00,10.00 0 0 0 278.20,589.90" fill="none" stroke="#ffe0f0" stroke-width="0.86" opacity="0.95"/>
<circle cx="237.28" cy="586.62" r="3.57" fill="#4a30a0"/>
<path d="M235.14,583.77 A3.57,3.57 0 0 1 240.77,587.33" fill="none" stroke="#b08ae0" stroke-width="0.50" opacity="0.9"/>
<rect x="226.8" y="567.8" width="67.6" height="24.6" fill="url(#gWpTop)"/>
</g>
<path d="M226.8,592.4 Q260.6,590.24 294.4,592.4" fill="none" stroke="#f0f1f4" stroke-width="1.1"/>
<rect x="259.80" y="591.32" width="1.6" height="5.05" fill="#c4c7cc"/>
<path d="M238.60,598.80 Q260.60,591.12 282.60,598.80" fill="none" stroke="#b9bcc3" stroke-width="1.5" stroke-linecap="round"/>
<line x1="256.00" y1="619.50" x2="256.00" y2="604.60" stroke="#1414f0" stroke-width="1.1"/>
<polygon points="256.00,601.00 258.10,605.50 253.90,605.50" fill="#1414f0"/>
<line x1="261.30" y1="619.50" x2="261.30" y2="604.60" stroke="#00b050" stroke-width="1.1"/>
<polygon points="261.30,601.00 263.40,605.50 259.20,605.50" fill="#00b050"/>
<g transform="translate(125,695.5)">
<polygon points="6,13.5 27,13.5 35,17.5 34.5,19.6 0.5,19.6 0,17.5" fill="#3a3c42"/>
<polygon points="6,13.5 27,13.5 35,17.5 0,17.5" fill="#5a5d64"/>
<path d="M12,15 L15.5,5.2 Q17,1.4 22,1.2 L33,0.8" fill="none" stroke="#1c1c1e" stroke-width="0.9"/>
<ellipse cx="12.5" cy="15.2" rx="2.6" ry="1" fill="#26272b"/>
</g>
<g transform="translate(122,744) scale(1.0128,1.0000)">
<ellipse cx="19.3" cy="22.3" rx="19.3" ry="3.7" fill="url(#gCamBase)"/>
<ellipse cx="19.3" cy="21.6" rx="9" ry="2" fill="#56585e"/>
<rect x="10" y="5.6" width="3.4" height="16" rx="0.8" fill="#5e6066"/>
<rect x="25" y="5.6" width="3.4" height="16" rx="0.8" fill="#5e6066"/>
<rect x="11" y="18.4" width="16.6" height="3.4" fill="#5a5c62"/>
<rect x="13.6" y="12.4" width="11.2" height="6.2" fill="#fafafa"/>
<rect x="12.8" y="0.6" width="12.6" height="11.8" rx="1" fill="url(#gCamHead)"/>
<ellipse cx="19.1" cy="5.6" rx="4.2" ry="3.4" fill="#2e2f33"/>
<ellipse cx="19.1" cy="5.6" rx="2.9" ry="2.1" fill="#050506"/>
</g>
<path d="M165.5,711.7 H192.3 V755.7 H214" fill="none" stroke="#22c070" stroke-width="1.1"/>
<polygon points="219.00,755.70 214.00,757.90 214.00,753.50" fill="#00b050"/>
<path d="M167,763.3 H214" fill="none" stroke="#1414f0" stroke-width="1.1"/>
<polygon points="219.00,763.30 214.00,765.50 214.00,761.10" fill="#1414f0"/>
<g transform="translate(224,750.5) scale(0.8929,0.8857)">
<rect x="0" y="0" width="84" height="17.5" fill="#b8bac3" stroke="#54565f" stroke-width="1"/>
<rect x="0.6" y="0.6" width="82.8" height="2" fill="#c9ccd3"/>
<rect x="6" y="8.3" width="6.2" height="4.6" fill="#1c2024"/>
<rect x="7.2" y="9" width="2.2" height="1.6" fill="#3c8c5a"/>
<rect x="15" y="9.6" width="3" height="3.2" fill="#2d8a3a"/>
<circle cx="27" cy="4.2" r="1.5" fill="#f09a28"/>
<rect x="23.2" y="9.2" width="8.6" height="4" fill="#f4f4f4" stroke="#8a8d94" stroke-width="0.4"/>
<rect x="21.8" y="10.4" width="1.2" height="1.6" fill="#e8e8e8"/><rect x="32" y="10.4" width="1.2" height="1.6" fill="#e8e8e8"/>
<rect x="39.2" y="9.2" width="8.6" height="4" fill="#f4f4f4" stroke="#8a8d94" stroke-width="0.4"/>
<rect x="37.8" y="10.4" width="1.2" height="1.6" fill="#e8e8e8"/><rect x="48" y="10.4" width="1.2" height="1.6" fill="#e8e8e8"/>
<rect x="52.6" y="7.2" width="4.6" height="2.6" fill="#30343a"/><rect x="52.6" y="10.6" width="4.6" height="2.6" fill="#30343a"/>
<rect x="53.3" y="7.9" width="3.2" height="0.8" fill="#d8d8d8"/><rect x="53.3" y="11.3" width="3.2" height="0.8" fill="#d8d8d8"/>
<rect x="59.6" y="9.8" width="10.6" height="3.6" fill="#2c9a3c"/>
<rect x="62.9" y="9.8" width="0.5" height="3.6" fill="#1c6a28"/><rect x="66.4" y="9.8" width="0.5" height="3.6" fill="#1c6a28"/>
<circle cx="75.6" cy="9.6" r="1.3" fill="#e6e6ea" stroke="#9a9da4" stroke-width="0.3"/>
<rect x="78.6" y="10.6" width="2" height="3.6" fill="#eeeeee"/>
</g>
<g clip-path="url(#mc6)">
<rect x="226.8" y="698.6" width="67.6" height="24.2" fill="url(#gWpBase)"/>
<ellipse cx="261.61" cy="709.73" rx="33.80" ry="7.26" fill="url(#gStreak)"/>
<circle cx="261.61" cy="709.73" r="20.81" fill="url(#gGlow)"/>
<circle cx="280.20" cy="710.70" r="10.00" fill="url(#gPlanet)"/>
<path d="M278.20,700.90 A10.00,10.00 0 0 0 278.20,720.50" fill="none" stroke="#ffe0f0" stroke-width="0.85" opacity="0.95"/>
<circle cx="237.28" cy="717.11" r="3.51" fill="#4a30a0"/>
<path d="M235.17,714.31 A3.51,3.51 0 0 1 240.72,717.81" fill="none" stroke="#b08ae0" stroke-width="0.50" opacity="0.9"/>
<rect x="226.8" y="698.6" width="67.6" height="24.2" fill="url(#gWpTop)"/>
</g>
<path d="M226.8,722.8000000000001 Q260.6,720.6400000000001 294.4,722.8000000000001" fill="none" stroke="#f0f1f4" stroke-width="1.1"/>
<rect x="259.80" y="721.72" width="1.6" height="4.92" fill="#c4c7cc"/>
<path d="M238.60,729.00 Q260.60,721.56 282.60,729.00" fill="none" stroke="#b9bcc3" stroke-width="1.5" stroke-linecap="round"/>
<line x1="256.00" y1="750.00" x2="256.00" y2="734.60" stroke="#1414f0" stroke-width="1.1"/>
<polygon points="256.00,731.00 258.10,735.50 253.90,735.50" fill="#1414f0"/>
<line x1="261.30" y1="750.00" x2="261.30" y2="734.60" stroke="#2cc070" stroke-width="1.0"/>
<polygon points="261.30,731.00 263.40,735.50 259.20,735.50" fill="#2cc070"/>
<g transform="translate(704.5,558.5)">
<polygon points="6,13.5 27,13.5 35,17.5 34.5,19.6 0.5,19.6 0,17.5" fill="#3a3c42"/>
<polygon points="6,13.5 27,13.5 35,17.5 0,17.5" fill="#5a5d64"/>
<path d="M12,15 L15.5,5.2 Q17,1.4 22,1.2 L33,0.8" fill="none" stroke="#1c1c1e" stroke-width="0.9"/>
<ellipse cx="12.5" cy="15.2" rx="2.6" ry="1" fill="#26272b"/>
</g>
<g transform="translate(701.5,608.5) scale(0.9872,1.0192)">
<ellipse cx="19.3" cy="22.3" rx="19.3" ry="3.7" fill="url(#gCamBase)"/>
<ellipse cx="19.3" cy="21.6" rx="9" ry="2" fill="#56585e"/>
<rect x="10" y="5.6" width="3.4" height="16" rx="0.8" fill="#5e6066"/>
<rect x="25" y="5.6" width="3.4" height="16" rx="0.8" fill="#5e6066"/>
<rect x="11" y="18.4" width="16.6" height="3.4" fill="#5a5c62"/>
<rect x="13.6" y="12.4" width="11.2" height="6.2" fill="#fafafa"/>
<rect x="12.8" y="0.6" width="12.6" height="11.8" rx="1" fill="url(#gCamHead)"/>
<ellipse cx="19.1" cy="5.6" rx="4.2" ry="3.4" fill="#2e2f33"/>
<ellipse cx="19.1" cy="5.6" rx="2.9" ry="2.1" fill="#050506"/>
</g>
<path d="M702,571.5 H683.5 V620.5 H672" fill="none" stroke="#00b050" stroke-width="1.0"/>
<polygon points="667.00,620.50 672.00,618.30 672.00,622.70" fill="#00b050"/>
<path d="M699,627.5 H672" fill="none" stroke="#2a2af0" stroke-width="1.0"/>
<polygon points="667.00,627.50 672.00,625.30 672.00,629.70" fill="#1414f0"/>
<g transform="translate(589,619) scale(0.9107,0.8857)">
<rect x="0" y="0" width="84" height="17.5" fill="#b8bac3" stroke="#54565f" stroke-width="1"/>
<rect x="0.6" y="0.6" width="82.8" height="2" fill="#c9ccd3"/>
<rect x="6" y="8.3" width="6.2" height="4.6" fill="#1c2024"/>
<rect x="7.2" y="9" width="2.2" height="1.6" fill="#3c8c5a"/>
<rect x="15" y="9.6" width="3" height="3.2" fill="#2d8a3a"/>
<circle cx="27" cy="4.2" r="1.5" fill="#f09a28"/>
<rect x="23.2" y="9.2" width="8.6" height="4" fill="#f4f4f4" stroke="#8a8d94" stroke-width="0.4"/>
<rect x="21.8" y="10.4" width="1.2" height="1.6" fill="#e8e8e8"/><rect x="32" y="10.4" width="1.2" height="1.6" fill="#e8e8e8"/>
<rect x="39.2" y="9.2" width="8.6" height="4" fill="#f4f4f4" stroke="#8a8d94" stroke-width="0.4"/>
<rect x="37.8" y="10.4" width="1.2" height="1.6" fill="#e8e8e8"/><rect x="48" y="10.4" width="1.2" height="1.6" fill="#e8e8e8"/>
<rect x="52.6" y="7.2" width="4.6" height="2.6" fill="#30343a"/><rect x="52.6" y="10.6" width="4.6" height="2.6" fill="#30343a"/>
<rect x="53.3" y="7.9" width="3.2" height="0.8" fill="#d8d8d8"/><rect x="53.3" y="11.3" width="3.2" height="0.8" fill="#d8d8d8"/>
<rect x="59.6" y="9.8" width="10.6" height="3.6" fill="#2c9a3c"/>
<rect x="62.9" y="9.8" width="0.5" height="3.6" fill="#1c6a28"/><rect x="66.4" y="9.8" width="0.5" height="3.6" fill="#1c6a28"/>
<circle cx="75.6" cy="9.6" r="1.3" fill="#e6e6ea" stroke="#9a9da4" stroke-width="0.3"/>
<rect x="78.6" y="10.6" width="2" height="3.6" fill="#eeeeee"/>
</g>
<g clip-path="url(#mc7)">
<rect x="591.8" y="567.6" width="67.6" height="24.6" fill="url(#gWpBase)"/>
<ellipse cx="626.61" cy="578.92" rx="33.80" ry="7.38" fill="url(#gStreak)"/>
<circle cx="626.61" cy="578.92" r="21.16" fill="url(#gGlow)"/>
<circle cx="645.20" cy="579.90" r="10.00" fill="url(#gPlanet)"/>
<path d="M643.20,570.10 A10.00,10.00 0 0 0 643.20,589.70" fill="none" stroke="#ffe0f0" stroke-width="0.86" opacity="0.95"/>
<circle cx="602.28" cy="586.42" r="3.57" fill="#4a30a0"/>
<path d="M600.14,583.57 A3.57,3.57 0 0 1 605.77,587.13" fill="none" stroke="#b08ae0" stroke-width="0.50" opacity="0.9"/>
<rect x="591.8" y="567.6" width="67.6" height="24.6" fill="url(#gWpTop)"/>
</g>
<path d="M591.8,592.2 Q625.5999999999999,590.0400000000001 659.4,592.2" fill="none" stroke="#f0f1f4" stroke-width="1.1"/>
<rect x="624.80" y="591.12" width="1.6" height="4.92" fill="#c4c7cc"/>
<path d="M603.60,598.40 Q625.60,590.96 647.60,598.40" fill="none" stroke="#b9bcc3" stroke-width="1.5" stroke-linecap="round"/>
<line x1="621.70" y1="618.50" x2="621.70" y2="604.10" stroke="#1414f0" stroke-width="1.0"/>
<polygon points="621.70,600.50 623.80,605.00 619.60,605.00" fill="#1414f0"/>
<line x1="627.30" y1="618.50" x2="627.30" y2="604.10" stroke="#00b050" stroke-width="1.0"/>
<polygon points="627.30,600.50 629.40,605.00 625.20,605.00" fill="#00b050"/>
<line x1="665" y1="722.3" x2="706" y2="722.3" stroke="#4646ff" stroke-width="2"/>
<line x1="766.5" y1="722.3" x2="811.5" y2="722.3" stroke="#f58220" stroke-width="2"/>
<line x1="665" y1="755.7" x2="706" y2="755.7" stroke="#00a850" stroke-width="2"/>
<line x1="766.5" y1="755.7" x2="808" y2="755.7" stroke="#6a2ca0" stroke-width="2"/>
<g style="font-family:'Liberation Serif','Noto Serif CJK SC',serif">
<text x="62" y="36.2" font-size="18.4" text-anchor="start" fill="#111" font-weight="300" >中心指挥大厅</text>
<text x="38.5" y="561.8" font-size="18.4" text-anchor="start" fill="#111" font-weight="300" textLength="103" lengthAdjust="spacing">分队指挥室1</text>
<text x="38.5" y="692.6" font-size="18.4" text-anchor="start" fill="#111" font-weight="300" textLength="103" lengthAdjust="spacing">分队指挥室2</text>
<text x="853" y="559.6" font-size="18.4" text-anchor="end" fill="#111" font-weight="300" textLength="100" lengthAdjust="spacing">分队指挥室3</text>
<text x="693.5" y="50.8" font-size="15" text-anchor="middle" fill="#111" font-weight="300" >LED大屏</text>
<text x="552" y="214.8" font-size="15.2" text-anchor="start" fill="#111" font-weight="300" >图像回显监看大屏</text>
<text x="431.5" y="139.2" font-size="11.2" text-anchor="middle" fill="#1a1a1a" font-weight="400" >可视化控制席</text>
<text x="439" y="312.2" font-size="10.6" text-anchor="middle" fill="#111" font-weight="400" >网络</text>
<text x="766" y="459.6" font-size="10.6" text-anchor="middle" fill="#1a1a1a" font-weight="400" >音频系统</text>
<text x="150" y="105.0" font-size="8.6" text-anchor="middle" fill="#444" font-weight="400" >会议摄像机</text>
<text x="151.3" y="165.5" font-size="8.7" text-anchor="middle" fill="#444" font-weight="400" >可视化数据平台</text>
<text x="151.4" y="177.2" font-size="8.7" text-anchor="middle" fill="#444" font-weight="400" >服务器</text>
<text x="150" y="225.5" font-size="8.6" text-anchor="middle" fill="#444" font-weight="400" >视频解码器</text>
<text x="151" y="288.2" font-size="8.6" text-anchor="middle" fill="#777" font-weight="400" >计算机</text>
<text x="150.8" y="337.2" font-size="8.5" text-anchor="middle" fill="#333" font-weight="400" >DVD</text>
<text x="150.6" y="389.3" font-size="8.6" text-anchor="middle" fill="#444" font-weight="400" >调音台</text>
<text x="156.8" y="442.0" font-size="8.8" text-anchor="middle" fill="#444" font-weight="400" >红外球摄像机</text>
<text x="117" y="511.8" font-size="7.6" text-anchor="middle" fill="#444" font-weight="400" >电源控制</text>
<text x="152.5" y="511.8" font-size="7.6" text-anchor="middle" fill="#444" font-weight="400" >灯光控制</text>
<text x="780" y="416.1" font-size="8.8" text-anchor="middle" fill="#444" font-weight="400" >视频会议终端</text>
<text x="142.5" y="600.9" font-size="8.6" text-anchor="middle" fill="#444" font-weight="400" >会议麦克风</text>
<text x="142.5" y="653.9" font-size="8.6" text-anchor="middle" fill="#444" font-weight="400" >会议摄像机</text>
<text x="142.5" y="731.2" font-size="8.6" text-anchor="middle" fill="#444" font-weight="400" >会议麦克风</text>
<text x="142.5" y="785.0" font-size="8.6" text-anchor="middle" fill="#444" font-weight="400" >会议摄像机</text>
<text x="721.5" y="593.2" font-size="8.6" text-anchor="middle" fill="#444" font-weight="400" >会议麦克风</text>
<text x="724" y="647.2" font-size="8.6" text-anchor="middle" fill="#444" font-weight="400" >会议摄像机</text>
<text x="261" y="101.2" font-size="8.2" text-anchor="middle" fill="#1a1a1a" font-weight="400" textLength="12" lengthAdjust="spacingAndGlyphs">DS6</text>
<text x="259.7" y="164.3" font-size="8.6" text-anchor="middle" fill="#1a1a1a" font-weight="400" textLength="12.8" lengthAdjust="spacingAndGlyphs">DSB</text>
<text x="259.7" y="224.8" font-size="8.6" text-anchor="middle" fill="#1a1a1a" font-weight="400" textLength="12.8" lengthAdjust="spacingAndGlyphs">DSB</text>
<text x="259.7" y="284.6" font-size="8.6" text-anchor="middle" fill="#1a1a1a" font-weight="400" textLength="12.8" lengthAdjust="spacingAndGlyphs">DSB</text>
<text x="259.7" y="342.6" font-size="8.6" text-anchor="middle" fill="#1a1a1a" font-weight="400" textLength="12.8" lengthAdjust="spacingAndGlyphs">DSB</text>
<text x="261" y="384.7" font-size="8.2" text-anchor="middle" fill="#1a1a1a" font-weight="400" textLength="12" lengthAdjust="spacingAndGlyphs">DS6</text>
<text x="258.5" y="510.5" font-size="8.2" text-anchor="middle" fill="#1a1a1a" font-weight="400" textLength="12.4" lengthAdjust="spacingAndGlyphs">DS4</text>
<text x="653" y="184.4" font-size="8" text-anchor="middle" fill="#1a1a1a" font-weight="400" textLength="12" lengthAdjust="spacingAndGlyphs">DSP</text>
<text x="733.5" y="184.4" font-size="8" text-anchor="middle" fill="#1a1a1a" font-weight="400" textLength="12" lengthAdjust="spacingAndGlyphs">DS6</text>
<text x="602.5" y="320.8" font-size="8" text-anchor="middle" fill="#1a1a1a" font-weight="400" textLength="12" lengthAdjust="spacingAndGlyphs">DSB</text>
<text x="693" y="320.8" font-size="8" text-anchor="middle" fill="#1a1a1a" font-weight="400" textLength="12" lengthAdjust="spacingAndGlyphs">DSB</text>
<text x="785" y="320.8" font-size="8" text-anchor="middle" fill="#1a1a1a" font-weight="400" textLength="12" lengthAdjust="spacingAndGlyphs">DSB</text>
<text x="628" y="400.9" font-size="8.2" text-anchor="middle" fill="#1a1a1a" font-weight="400" textLength="12.4" lengthAdjust="spacingAndGlyphs">DSB</text>
<text x="628" y="500.0" font-size="8.2" text-anchor="middle" fill="#1a1a1a" font-weight="400" textLength="12.4" lengthAdjust="spacingAndGlyphs">DS4</text>
<text x="738.5" y="725.2" font-size="8.2" text-anchor="middle" fill="#8a8a8a" font-weight="400" >视频</text>
<text x="829" y="726.6" font-size="8.6" text-anchor="middle" fill="#333" font-weight="400" >控制</text>
<text x="732.5" y="758.6" font-size="8.2" text-anchor="middle" fill="#9a9a9a" font-weight="400" >音频</text>
<text x="829.5" y="760" font-size="8.6" text-anchor="middle" fill="#5a5a5a" font-weight="400" >网络</text>
</g>
</svg>
</body></html>
